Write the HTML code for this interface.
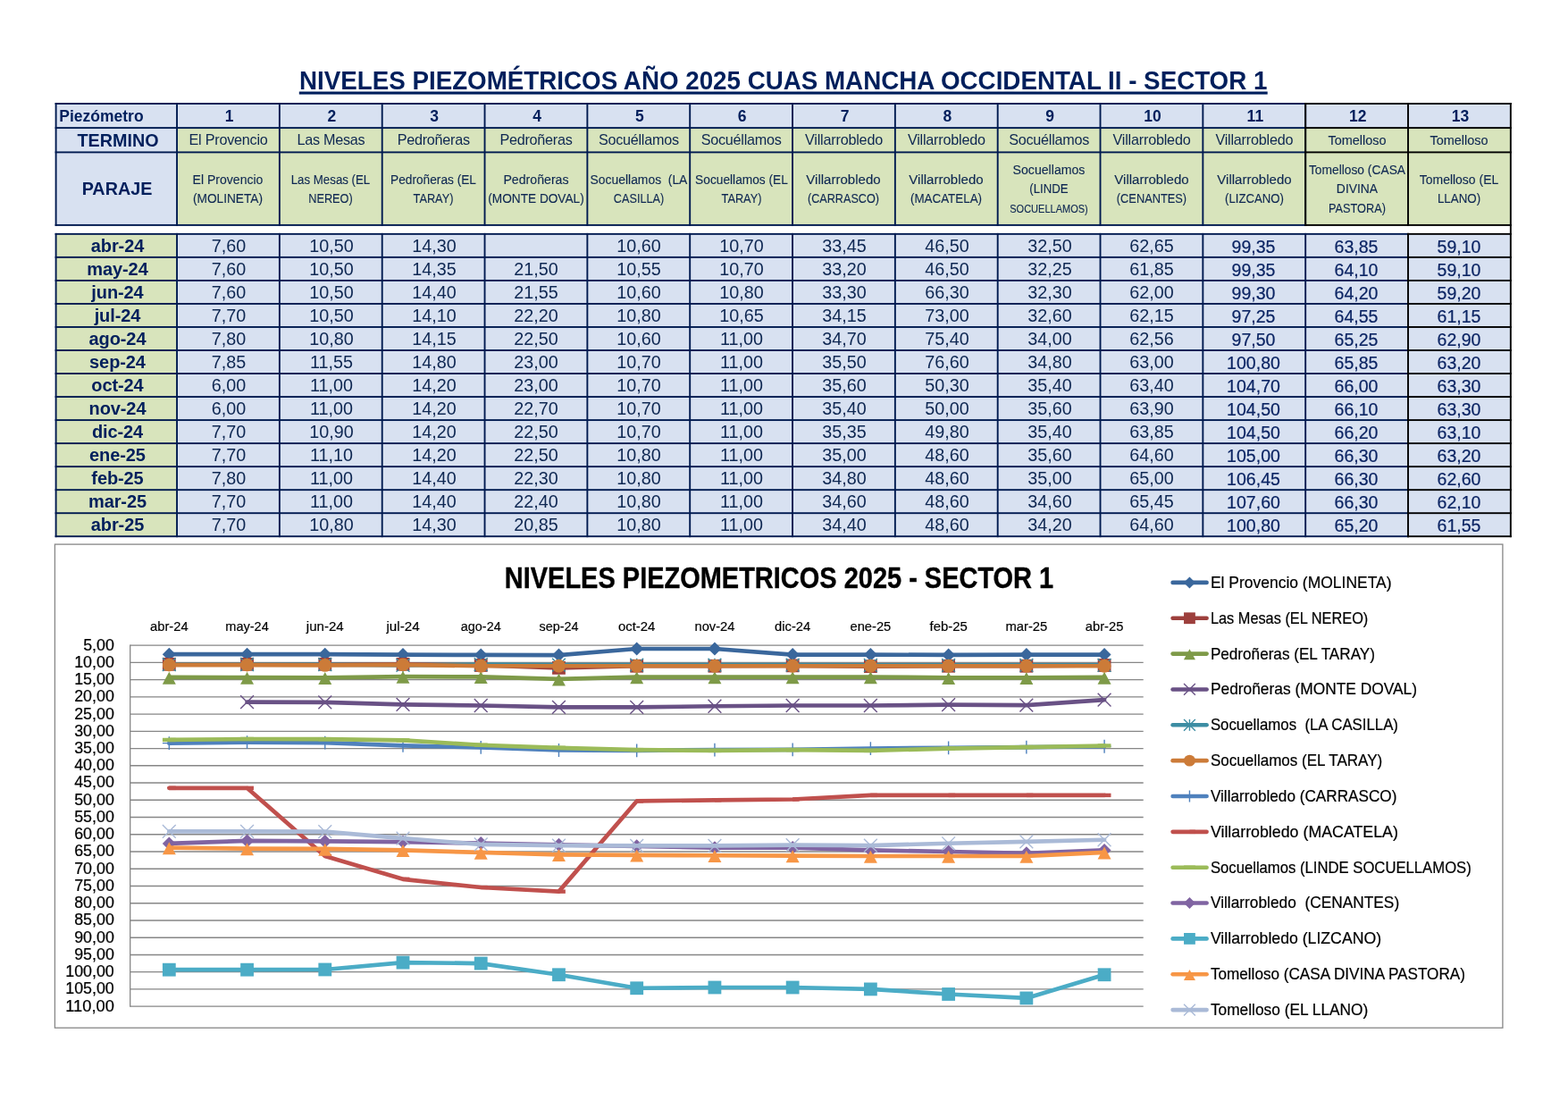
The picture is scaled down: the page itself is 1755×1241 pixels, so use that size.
<!DOCTYPE html>
<html lang="es"><head><meta charset="utf-8"><title>Niveles piezométricos 2025 - Sector 1</title>
<style>
html,body{margin:0;padding:0;background:#fff;width:1755px;height:1241px;overflow:hidden;}
body{width:1755px;height:1241px;position:relative;overflow:hidden;font-family:"Liberation Sans",sans-serif;}
#page{position:absolute;left:0;top:0;width:1755px;height:1241px;overflow:hidden;}
svg{position:absolute;left:0;top:0;}
svg text{font-family:"Liberation Sans",sans-serif;}
.t{position:absolute;white-space:pre;overflow:visible;margin:0;padding:0;}
</style></head><body><div id="page">
<svg id="grid" width="1755" height="1241" viewBox="0 0 1755 1241">
<rect x="62.60" y="116.00" width="135.45" height="135.90" fill="#d8e1f1"/>
<rect x="198.05" y="116.00" width="1492.79" height="27.10" fill="#d8e1f1"/>
<rect x="198.05" y="143.10" width="1492.79" height="108.80" fill="#d8e4bc"/>
<rect x="62.60" y="261.85" width="135.45" height="338.39" fill="#d8e4bc"/>
<rect x="198.05" y="261.85" width="1492.79" height="338.39" fill="#d8e1f1"/>
<rect x="61.65" y="115.05" width="1400.48" height="1.90" fill="#001a50"/>
<rect x="61.65" y="142.15" width="1400.48" height="1.90" fill="#001a50"/>
<rect x="61.65" y="169.45" width="1400.48" height="1.90" fill="#001a50"/>
<rect x="61.65" y="250.95" width="1400.48" height="1.90" fill="#001a50"/>
<rect x="61.65" y="260.90" width="1515.31" height="1.90" fill="#001a50"/>
<rect x="61.65" y="286.93" width="1515.31" height="1.90" fill="#001a50"/>
<rect x="61.65" y="312.96" width="1515.31" height="1.90" fill="#001a50"/>
<rect x="61.65" y="338.99" width="1515.31" height="1.90" fill="#001a50"/>
<rect x="61.65" y="365.02" width="1515.31" height="1.90" fill="#001a50"/>
<rect x="61.65" y="391.05" width="1515.31" height="1.90" fill="#001a50"/>
<rect x="61.65" y="417.08" width="1515.31" height="1.90" fill="#001a50"/>
<rect x="61.65" y="443.11" width="1515.31" height="1.90" fill="#001a50"/>
<rect x="61.65" y="469.14" width="1515.31" height="1.90" fill="#001a50"/>
<rect x="61.65" y="495.17" width="1515.31" height="1.90" fill="#001a50"/>
<rect x="61.65" y="521.20" width="1515.31" height="1.90" fill="#001a50"/>
<rect x="61.65" y="547.23" width="1515.31" height="1.90" fill="#001a50"/>
<rect x="61.65" y="573.26" width="1515.31" height="1.90" fill="#001a50"/>
<rect x="61.65" y="599.29" width="1515.31" height="1.90" fill="#001a50"/>
<rect x="61.65" y="115.05" width="1.90" height="137.80" fill="#001a50"/>
<rect x="61.65" y="260.90" width="1.90" height="340.29" fill="#001a50"/>
<rect x="197.10" y="115.05" width="1.90" height="137.80" fill="#001a50"/>
<rect x="197.10" y="260.90" width="1.90" height="340.29" fill="#001a50"/>
<rect x="311.93" y="115.05" width="1.90" height="137.80" fill="#001a50"/>
<rect x="311.93" y="260.90" width="1.90" height="340.29" fill="#001a50"/>
<rect x="426.76" y="115.05" width="1.90" height="137.80" fill="#001a50"/>
<rect x="426.76" y="260.90" width="1.90" height="340.29" fill="#001a50"/>
<rect x="541.59" y="115.05" width="1.90" height="137.80" fill="#001a50"/>
<rect x="541.59" y="260.90" width="1.90" height="340.29" fill="#001a50"/>
<rect x="656.42" y="115.05" width="1.90" height="137.80" fill="#001a50"/>
<rect x="656.42" y="260.90" width="1.90" height="340.29" fill="#001a50"/>
<rect x="771.25" y="115.05" width="1.90" height="137.80" fill="#001a50"/>
<rect x="771.25" y="260.90" width="1.90" height="340.29" fill="#001a50"/>
<rect x="886.08" y="115.05" width="1.90" height="137.80" fill="#001a50"/>
<rect x="886.08" y="260.90" width="1.90" height="340.29" fill="#001a50"/>
<rect x="1000.91" y="115.05" width="1.90" height="137.80" fill="#001a50"/>
<rect x="1000.91" y="260.90" width="1.90" height="340.29" fill="#001a50"/>
<rect x="1115.74" y="115.05" width="1.90" height="137.80" fill="#001a50"/>
<rect x="1115.74" y="260.90" width="1.90" height="340.29" fill="#001a50"/>
<rect x="1230.57" y="115.05" width="1.90" height="137.80" fill="#001a50"/>
<rect x="1230.57" y="260.90" width="1.90" height="340.29" fill="#001a50"/>
<rect x="1345.40" y="115.05" width="1.90" height="137.80" fill="#001a50"/>
<rect x="1345.40" y="260.90" width="1.90" height="340.29" fill="#001a50"/>
<rect x="1460.23" y="115.05" width="1.90" height="137.80" fill="#001a50"/>
<rect x="1460.23" y="260.90" width="1.90" height="340.29" fill="#001a50"/>
<rect x="1460.23" y="115.05" width="231.56" height="1.90" fill="#000000"/>
<rect x="1460.23" y="142.15" width="231.56" height="1.90" fill="#000000"/>
<rect x="1460.23" y="169.45" width="231.56" height="1.90" fill="#000000"/>
<rect x="1460.23" y="250.95" width="231.56" height="1.90" fill="#000000"/>
<rect x="1575.06" y="260.90" width="116.73" height="1.90" fill="#000000"/>
<rect x="1575.06" y="286.93" width="116.73" height="1.90" fill="#000000"/>
<rect x="1575.06" y="312.96" width="116.73" height="1.90" fill="#000000"/>
<rect x="1575.06" y="338.99" width="116.73" height="1.90" fill="#000000"/>
<rect x="1575.06" y="365.02" width="116.73" height="1.90" fill="#000000"/>
<rect x="1575.06" y="391.05" width="116.73" height="1.90" fill="#000000"/>
<rect x="1575.06" y="417.08" width="116.73" height="1.90" fill="#000000"/>
<rect x="1575.06" y="443.11" width="116.73" height="1.90" fill="#000000"/>
<rect x="1575.06" y="469.14" width="116.73" height="1.90" fill="#000000"/>
<rect x="1575.06" y="495.17" width="116.73" height="1.90" fill="#000000"/>
<rect x="1575.06" y="521.20" width="116.73" height="1.90" fill="#000000"/>
<rect x="1575.06" y="547.23" width="116.73" height="1.90" fill="#000000"/>
<rect x="1575.06" y="573.26" width="116.73" height="1.90" fill="#000000"/>
<rect x="1575.06" y="599.29" width="116.73" height="1.90" fill="#000000"/>
<rect x="1460.23" y="115.05" width="1.90" height="137.80" fill="#000000"/>
<rect x="1575.06" y="115.05" width="1.90" height="137.80" fill="#000000"/>
<rect x="1575.06" y="260.90" width="1.90" height="340.29" fill="#000000"/>
<rect x="1689.89" y="115.05" width="1.90" height="486.14" fill="#000000"/>
<rect x="334.8" y="102.5" width="1083.9" height="3.1" fill="#001f5c"/>
</svg>
<svg id="chart" width="1755" height="1241" viewBox="0 0 1755 1241">
<rect x="61.4" y="609.1" width="1620.5" height="541.1" fill="#fff" stroke="#868686" stroke-width="1.3"/>
<line x1="145.7" y1="722.15" x2="1279.7" y2="722.15" stroke="#868686" stroke-width="1.4"/>
<text transform="translate(127.80 727.55) scale(0.9885 1)" font-size="18.03" text-anchor="end" fill="#000" stroke="#000" stroke-width="0.22" xml:space="preserve">5,00</text>
<line x1="145.7" y1="741.39" x2="1279.7" y2="741.39" stroke="#868686" stroke-width="1.4"/>
<text transform="translate(127.80 746.79) scale(0.9890 1)" font-size="18.03" text-anchor="end" fill="#000" stroke="#000" stroke-width="0.22" xml:space="preserve">10,00</text>
<line x1="145.7" y1="760.63" x2="1279.7" y2="760.63" stroke="#868686" stroke-width="1.4"/>
<text transform="translate(127.80 766.03) scale(0.9890 1)" font-size="18.03" text-anchor="end" fill="#000" stroke="#000" stroke-width="0.22" xml:space="preserve">15,00</text>
<line x1="145.7" y1="779.86" x2="1279.7" y2="779.86" stroke="#868686" stroke-width="1.4"/>
<text transform="translate(127.80 785.26) scale(0.9890 1)" font-size="18.03" text-anchor="end" fill="#000" stroke="#000" stroke-width="0.22" xml:space="preserve">20,00</text>
<line x1="145.7" y1="799.10" x2="1279.7" y2="799.10" stroke="#868686" stroke-width="1.4"/>
<text transform="translate(127.80 804.50) scale(0.9890 1)" font-size="18.03" text-anchor="end" fill="#000" stroke="#000" stroke-width="0.22" xml:space="preserve">25,00</text>
<line x1="145.7" y1="818.34" x2="1279.7" y2="818.34" stroke="#868686" stroke-width="1.4"/>
<text transform="translate(127.80 823.74) scale(0.9890 1)" font-size="18.03" text-anchor="end" fill="#000" stroke="#000" stroke-width="0.22" xml:space="preserve">30,00</text>
<line x1="145.7" y1="837.58" x2="1279.7" y2="837.58" stroke="#868686" stroke-width="1.4"/>
<text transform="translate(127.80 842.98) scale(0.9890 1)" font-size="18.03" text-anchor="end" fill="#000" stroke="#000" stroke-width="0.22" xml:space="preserve">35,00</text>
<line x1="145.7" y1="856.82" x2="1279.7" y2="856.82" stroke="#868686" stroke-width="1.4"/>
<text transform="translate(127.80 862.22) scale(0.9890 1)" font-size="18.03" text-anchor="end" fill="#000" stroke="#000" stroke-width="0.22" xml:space="preserve">40,00</text>
<line x1="145.7" y1="876.05" x2="1279.7" y2="876.05" stroke="#868686" stroke-width="1.4"/>
<text transform="translate(127.80 881.45) scale(0.9890 1)" font-size="18.03" text-anchor="end" fill="#000" stroke="#000" stroke-width="0.22" xml:space="preserve">45,00</text>
<line x1="145.7" y1="895.29" x2="1279.7" y2="895.29" stroke="#868686" stroke-width="1.4"/>
<text transform="translate(127.80 900.69) scale(0.9890 1)" font-size="18.03" text-anchor="end" fill="#000" stroke="#000" stroke-width="0.22" xml:space="preserve">50,00</text>
<line x1="145.7" y1="914.53" x2="1279.7" y2="914.53" stroke="#868686" stroke-width="1.4"/>
<text transform="translate(127.80 919.93) scale(0.9890 1)" font-size="18.03" text-anchor="end" fill="#000" stroke="#000" stroke-width="0.22" xml:space="preserve">55,00</text>
<line x1="145.7" y1="933.77" x2="1279.7" y2="933.77" stroke="#868686" stroke-width="1.4"/>
<text transform="translate(127.80 939.17) scale(0.9890 1)" font-size="18.03" text-anchor="end" fill="#000" stroke="#000" stroke-width="0.22" xml:space="preserve">60,00</text>
<line x1="145.7" y1="953.01" x2="1279.7" y2="953.01" stroke="#868686" stroke-width="1.4"/>
<text transform="translate(127.80 958.41) scale(0.9890 1)" font-size="18.03" text-anchor="end" fill="#000" stroke="#000" stroke-width="0.22" xml:space="preserve">65,00</text>
<line x1="145.7" y1="972.25" x2="1279.7" y2="972.25" stroke="#868686" stroke-width="1.4"/>
<text transform="translate(127.80 977.65) scale(0.9890 1)" font-size="18.03" text-anchor="end" fill="#000" stroke="#000" stroke-width="0.22" xml:space="preserve">70,00</text>
<line x1="145.7" y1="991.48" x2="1279.7" y2="991.48" stroke="#868686" stroke-width="1.4"/>
<text transform="translate(127.80 996.88) scale(0.9890 1)" font-size="18.03" text-anchor="end" fill="#000" stroke="#000" stroke-width="0.22" xml:space="preserve">75,00</text>
<line x1="145.7" y1="1010.72" x2="1279.7" y2="1010.72" stroke="#868686" stroke-width="1.4"/>
<text transform="translate(127.80 1016.12) scale(0.9890 1)" font-size="18.03" text-anchor="end" fill="#000" stroke="#000" stroke-width="0.22" xml:space="preserve">80,00</text>
<line x1="145.7" y1="1029.96" x2="1279.7" y2="1029.96" stroke="#868686" stroke-width="1.4"/>
<text transform="translate(127.80 1035.36) scale(0.9890 1)" font-size="18.03" text-anchor="end" fill="#000" stroke="#000" stroke-width="0.22" xml:space="preserve">85,00</text>
<line x1="145.7" y1="1049.20" x2="1279.7" y2="1049.20" stroke="#868686" stroke-width="1.4"/>
<text transform="translate(127.80 1054.60) scale(0.9890 1)" font-size="18.03" text-anchor="end" fill="#000" stroke="#000" stroke-width="0.22" xml:space="preserve">90,00</text>
<line x1="145.7" y1="1068.44" x2="1279.7" y2="1068.44" stroke="#868686" stroke-width="1.4"/>
<text transform="translate(127.80 1073.84) scale(0.9890 1)" font-size="18.03" text-anchor="end" fill="#000" stroke="#000" stroke-width="0.22" xml:space="preserve">95,00</text>
<line x1="145.7" y1="1087.67" x2="1279.7" y2="1087.67" stroke="#868686" stroke-width="1.4"/>
<text transform="translate(127.80 1093.07) scale(0.9893 1)" font-size="18.03" text-anchor="end" fill="#000" stroke="#000" stroke-width="0.22" xml:space="preserve">100,00</text>
<line x1="145.7" y1="1106.91" x2="1279.7" y2="1106.91" stroke="#868686" stroke-width="1.4"/>
<text transform="translate(127.80 1112.31) scale(0.9893 1)" font-size="18.03" text-anchor="end" fill="#000" stroke="#000" stroke-width="0.22" xml:space="preserve">105,00</text>
<line x1="145.7" y1="1126.15" x2="1279.7" y2="1126.15" stroke="#868686" stroke-width="1.4"/>
<text transform="translate(127.80 1131.55) scale(1.0139 1)" font-size="18.03" text-anchor="end" fill="#000" stroke="#000" stroke-width="0.22" xml:space="preserve">110,00</text>
<line x1="145.7" y1="721.5" x2="145.7" y2="1126.8000000000002" stroke="#868686" stroke-width="1.3"/>
<text transform="translate(189.32 705.90) scale(0.9941 1)" font-size="14.81" text-anchor="middle" fill="#000" stroke="#000" stroke-width="0.18" xml:space="preserve">abr-24</text>
<text transform="translate(276.55 705.90) scale(0.9811 1)" font-size="14.81" text-anchor="middle" fill="#000" stroke="#000" stroke-width="0.18" xml:space="preserve">may-24</text>
<text transform="translate(363.78 705.90) scale(1.0205 1)" font-size="14.81" text-anchor="middle" fill="#000" stroke="#000" stroke-width="0.18" xml:space="preserve">jun-24</text>
<text transform="translate(451.01 705.90) scale(1.0284 1)" font-size="14.81" text-anchor="middle" fill="#000" stroke="#000" stroke-width="0.18" xml:space="preserve">jul-24</text>
<text transform="translate(538.24 705.90) scale(0.9739 1)" font-size="14.81" text-anchor="middle" fill="#000" stroke="#000" stroke-width="0.18" xml:space="preserve">ago-24</text>
<text transform="translate(625.47 705.90) scale(0.9719 1)" font-size="14.81" text-anchor="middle" fill="#000" stroke="#000" stroke-width="0.18" xml:space="preserve">sep-24</text>
<text transform="translate(712.70 705.90) scale(1.0068 1)" font-size="14.81" text-anchor="middle" fill="#000" stroke="#000" stroke-width="0.18" xml:space="preserve">oct-24</text>
<text transform="translate(799.93 705.90) scale(0.9943 1)" font-size="14.81" text-anchor="middle" fill="#000" stroke="#000" stroke-width="0.18" xml:space="preserve">nov-24</text>
<text transform="translate(887.16 705.90) scale(0.9967 1)" font-size="14.81" text-anchor="middle" fill="#000" stroke="#000" stroke-width="0.18" xml:space="preserve">dic-24</text>
<text transform="translate(974.39 705.90) scale(0.9915 1)" font-size="14.81" text-anchor="middle" fill="#000" stroke="#000" stroke-width="0.18" xml:space="preserve">ene-25</text>
<text transform="translate(1061.62 705.90) scale(1.0055 1)" font-size="14.81" text-anchor="middle" fill="#000" stroke="#000" stroke-width="0.18" xml:space="preserve">feb-25</text>
<text transform="translate(1148.85 705.90) scale(1.0010 1)" font-size="14.81" text-anchor="middle" fill="#000" stroke="#000" stroke-width="0.18" xml:space="preserve">mar-25</text>
<text transform="translate(1236.08 705.90) scale(0.9941 1)" font-size="14.81" text-anchor="middle" fill="#000" stroke="#000" stroke-width="0.18" xml:space="preserve">abr-25</text>
<text transform="translate(872.00 657.70) scale(0.8874 1)" font-size="32.66" text-anchor="middle" font-weight="bold" fill="#000" stroke="#000" stroke-width="0.39" xml:space="preserve">NIVELES PIEZOMETRICOS 2025 - SECTOR 1</text>
<path d="M189.32 732.15L276.55 732.15L363.78 732.15L451.01 732.54L538.24 732.92L625.47 733.12L712.70 726.00L799.93 726.00L887.16 732.54L974.39 732.54L1061.62 732.92L1148.85 732.54L1236.08 732.54" fill="none" stroke="#3a679c" stroke-width="4.7" stroke-linejoin="round" stroke-linecap="round"/>
<path d="M181.82 732.15L189.32 724.65L196.82 732.15L189.32 739.65Z" fill="#3a679c"/>
<path d="M269.05 732.15L276.55 724.65L284.05 732.15L276.55 739.65Z" fill="#3a679c"/>
<path d="M356.28 732.15L363.78 724.65L371.28 732.15L363.78 739.65Z" fill="#3a679c"/>
<path d="M443.51 732.54L451.01 725.04L458.51 732.54L451.01 740.04Z" fill="#3a679c"/>
<path d="M530.74 732.92L538.24 725.42L545.74 732.92L538.24 740.42Z" fill="#3a679c"/>
<path d="M617.97 733.12L625.47 725.62L632.97 733.12L625.47 740.62Z" fill="#3a679c"/>
<path d="M705.20 726.00L712.70 718.50L720.20 726.00L712.70 733.50Z" fill="#3a679c"/>
<path d="M792.43 726.00L799.93 718.50L807.43 726.00L799.93 733.50Z" fill="#3a679c"/>
<path d="M879.66 732.54L887.16 725.04L894.66 732.54L887.16 740.04Z" fill="#3a679c"/>
<path d="M966.89 732.54L974.39 725.04L981.89 732.54L974.39 740.04Z" fill="#3a679c"/>
<path d="M1054.12 732.92L1061.62 725.42L1069.12 732.92L1061.62 740.42Z" fill="#3a679c"/>
<path d="M1141.35 732.54L1148.85 725.04L1156.35 732.54L1148.85 740.04Z" fill="#3a679c"/>
<path d="M1228.58 732.54L1236.08 725.04L1243.58 732.54L1236.08 740.04Z" fill="#3a679c"/>
<path d="M189.32 743.31L276.55 743.31L363.78 743.31L451.01 743.31L538.24 744.47L625.47 747.35L712.70 745.24L799.93 745.24L887.16 744.85L974.39 745.62L1061.62 745.24L1148.85 745.24L1236.08 744.47" fill="none" stroke="#9d3f3c" stroke-width="4.7" stroke-linejoin="round" stroke-linecap="round"/>
<rect x="181.92" y="735.91" width="14.80" height="14.80" fill="#9d3f3c"/>
<rect x="269.15" y="735.91" width="14.80" height="14.80" fill="#9d3f3c"/>
<rect x="356.38" y="735.91" width="14.80" height="14.80" fill="#9d3f3c"/>
<rect x="443.61" y="735.91" width="14.80" height="14.80" fill="#9d3f3c"/>
<rect x="530.84" y="737.07" width="14.80" height="14.80" fill="#9d3f3c"/>
<rect x="618.07" y="739.95" width="14.80" height="14.80" fill="#9d3f3c"/>
<rect x="705.30" y="737.84" width="14.80" height="14.80" fill="#9d3f3c"/>
<rect x="792.53" y="737.84" width="14.80" height="14.80" fill="#9d3f3c"/>
<rect x="879.76" y="737.45" width="14.80" height="14.80" fill="#9d3f3c"/>
<rect x="966.99" y="738.22" width="14.80" height="14.80" fill="#9d3f3c"/>
<rect x="1054.22" y="737.84" width="14.80" height="14.80" fill="#9d3f3c"/>
<rect x="1141.45" y="737.84" width="14.80" height="14.80" fill="#9d3f3c"/>
<rect x="1228.68" y="737.07" width="14.80" height="14.80" fill="#9d3f3c"/>
<path d="M189.32 757.93L276.55 758.13L363.78 758.32L451.01 757.16L538.24 757.36L625.47 759.86L712.70 757.55L799.93 757.55L887.16 757.55L974.39 757.55L1061.62 758.32L1148.85 758.32L1236.08 757.93" fill="none" stroke="#7e9a48" stroke-width="4.7" stroke-linejoin="round" stroke-linecap="round"/>
<path d="M189.32 751.63L196.82 765.63L181.82 765.63Z" fill="#7e9a48"/>
<path d="M276.55 751.83L284.05 765.83L269.05 765.83Z" fill="#7e9a48"/>
<path d="M363.78 752.02L371.28 766.02L356.28 766.02Z" fill="#7e9a48"/>
<path d="M451.01 750.86L458.51 764.86L443.51 764.86Z" fill="#7e9a48"/>
<path d="M538.24 751.06L545.74 765.06L530.74 765.06Z" fill="#7e9a48"/>
<path d="M625.47 753.56L632.97 767.56L617.97 767.56Z" fill="#7e9a48"/>
<path d="M712.70 751.25L720.20 765.25L705.20 765.25Z" fill="#7e9a48"/>
<path d="M799.93 751.25L807.43 765.25L792.43 765.25Z" fill="#7e9a48"/>
<path d="M887.16 751.25L894.66 765.25L879.66 765.25Z" fill="#7e9a48"/>
<path d="M974.39 751.25L981.89 765.25L966.89 765.25Z" fill="#7e9a48"/>
<path d="M1061.62 752.02L1069.12 766.02L1054.12 766.02Z" fill="#7e9a48"/>
<path d="M1148.85 752.02L1156.35 766.02L1141.35 766.02Z" fill="#7e9a48"/>
<path d="M1236.08 751.63L1243.58 765.63L1228.58 765.63Z" fill="#7e9a48"/>
<path d="M276.55 785.64L363.78 785.83L451.01 788.33L538.24 789.48L625.47 791.41L712.70 791.41L799.93 790.25L887.16 789.48L974.39 789.48L1061.62 788.71L1148.85 789.10L1236.08 783.13" fill="none" stroke="#695185" stroke-width="4.7" stroke-linejoin="round" stroke-linecap="round"/>
<path d="M269.15 778.24L283.95 793.04M283.95 778.24L269.15 793.04" stroke="#695185" stroke-width="1.4" fill="none"/>
<path d="M356.38 778.43L371.18 793.23M371.18 778.43L356.38 793.23" stroke="#695185" stroke-width="1.4" fill="none"/>
<path d="M443.61 780.93L458.41 795.73M458.41 780.93L443.61 795.73" stroke="#695185" stroke-width="1.4" fill="none"/>
<path d="M530.84 782.08L545.64 796.88M545.64 782.08L530.84 796.88" stroke="#695185" stroke-width="1.4" fill="none"/>
<path d="M618.07 784.01L632.87 798.81M632.87 784.01L618.07 798.81" stroke="#695185" stroke-width="1.4" fill="none"/>
<path d="M705.30 784.01L720.10 798.81M720.10 784.01L705.30 798.81" stroke="#695185" stroke-width="1.4" fill="none"/>
<path d="M792.53 782.85L807.33 797.65M807.33 782.85L792.53 797.65" stroke="#695185" stroke-width="1.4" fill="none"/>
<path d="M879.76 782.08L894.56 796.88M894.56 782.08L879.76 796.88" stroke="#695185" stroke-width="1.4" fill="none"/>
<path d="M966.99 782.08L981.79 796.88M981.79 782.08L966.99 796.88" stroke="#695185" stroke-width="1.4" fill="none"/>
<path d="M1054.22 781.31L1069.02 796.11M1069.02 781.31L1054.22 796.11" stroke="#695185" stroke-width="1.4" fill="none"/>
<path d="M1141.45 781.70L1156.25 796.50M1156.25 781.70L1141.45 796.50" stroke="#695185" stroke-width="1.4" fill="none"/>
<path d="M1228.68 775.73L1243.48 790.53M1243.48 775.73L1228.68 790.53" stroke="#695185" stroke-width="1.4" fill="none"/>
<path d="M189.32 743.70L276.55 743.50L363.78 743.70L451.01 744.47L538.24 743.70L625.47 744.08L712.70 744.08L799.93 744.08L887.16 744.08L974.39 744.47L1061.62 744.47L1148.85 744.47L1236.08 744.47" fill="none" stroke="#3c8da3" stroke-width="4.7" stroke-linejoin="round" stroke-linecap="round"/>
<path d="M181.92 736.30L196.72 751.10M196.72 736.30L181.92 751.10M189.32 736.30L189.32 751.10" stroke="#3c8da3" stroke-width="1.4" fill="none"/>
<path d="M269.15 736.10L283.95 750.90M283.95 736.10L269.15 750.90M276.55 736.10L276.55 750.90" stroke="#3c8da3" stroke-width="1.4" fill="none"/>
<path d="M356.38 736.30L371.18 751.10M371.18 736.30L356.38 751.10M363.78 736.30L363.78 751.10" stroke="#3c8da3" stroke-width="1.4" fill="none"/>
<path d="M443.61 737.07L458.41 751.87M458.41 737.07L443.61 751.87M451.01 737.07L451.01 751.87" stroke="#3c8da3" stroke-width="1.4" fill="none"/>
<path d="M530.84 736.30L545.64 751.10M545.64 736.30L530.84 751.10M538.24 736.30L538.24 751.10" stroke="#3c8da3" stroke-width="1.4" fill="none"/>
<path d="M618.07 736.68L632.87 751.48M632.87 736.68L618.07 751.48M625.47 736.68L625.47 751.48" stroke="#3c8da3" stroke-width="1.4" fill="none"/>
<path d="M705.30 736.68L720.10 751.48M720.10 736.68L705.30 751.48M712.70 736.68L712.70 751.48" stroke="#3c8da3" stroke-width="1.4" fill="none"/>
<path d="M792.53 736.68L807.33 751.48M807.33 736.68L792.53 751.48M799.93 736.68L799.93 751.48" stroke="#3c8da3" stroke-width="1.4" fill="none"/>
<path d="M879.76 736.68L894.56 751.48M894.56 736.68L879.76 751.48M887.16 736.68L887.16 751.48" stroke="#3c8da3" stroke-width="1.4" fill="none"/>
<path d="M966.99 737.07L981.79 751.87M981.79 737.07L966.99 751.87M974.39 737.07L974.39 751.87" stroke="#3c8da3" stroke-width="1.4" fill="none"/>
<path d="M1054.22 737.07L1069.02 751.87M1069.02 737.07L1054.22 751.87M1061.62 737.07L1061.62 751.87" stroke="#3c8da3" stroke-width="1.4" fill="none"/>
<path d="M1141.45 737.07L1156.25 751.87M1156.25 737.07L1141.45 751.87M1148.85 737.07L1148.85 751.87" stroke="#3c8da3" stroke-width="1.4" fill="none"/>
<path d="M1228.68 737.07L1243.48 751.87M1243.48 737.07L1228.68 751.87M1236.08 737.07L1236.08 751.87" stroke="#3c8da3" stroke-width="1.4" fill="none"/>
<path d="M189.32 744.08L276.55 744.08L363.78 744.47L451.01 743.89L538.24 745.24L625.47 745.24L712.70 745.24L799.93 745.24L887.16 745.24L974.39 745.24L1061.62 745.24L1148.85 745.24L1236.08 745.24" fill="none" stroke="#cc7b38" stroke-width="4.7" stroke-linejoin="round" stroke-linecap="round"/>
<circle cx="189.32" cy="744.08" r="7.40" fill="#cc7b38"/>
<circle cx="276.55" cy="744.08" r="7.40" fill="#cc7b38"/>
<circle cx="363.78" cy="744.47" r="7.40" fill="#cc7b38"/>
<circle cx="451.01" cy="743.89" r="7.40" fill="#cc7b38"/>
<circle cx="538.24" cy="745.24" r="7.40" fill="#cc7b38"/>
<circle cx="625.47" cy="745.24" r="7.40" fill="#cc7b38"/>
<circle cx="712.70" cy="745.24" r="7.40" fill="#cc7b38"/>
<circle cx="799.93" cy="745.24" r="7.40" fill="#cc7b38"/>
<circle cx="887.16" cy="745.24" r="7.40" fill="#cc7b38"/>
<circle cx="974.39" cy="745.24" r="7.40" fill="#cc7b38"/>
<circle cx="1061.62" cy="745.24" r="7.40" fill="#cc7b38"/>
<circle cx="1148.85" cy="745.24" r="7.40" fill="#cc7b38"/>
<circle cx="1236.08" cy="745.24" r="7.40" fill="#cc7b38"/>
<path d="M189.32 831.61L276.55 830.65L363.78 831.04L451.01 834.31L538.24 836.42L625.47 839.50L712.70 839.89L799.93 839.12L887.16 838.93L974.39 837.58L1061.62 836.81L1148.85 836.04L1236.08 835.27" fill="none" stroke="#4f81bd" stroke-width="4.7" stroke-linejoin="round" stroke-linecap="round"/>
<path d="M181.92 831.61L196.72 831.61M189.32 824.21L189.32 839.01" stroke="#4f81bd" stroke-width="1.4" fill="none"/>
<path d="M269.15 830.65L283.95 830.65M276.55 823.25L276.55 838.05" stroke="#4f81bd" stroke-width="1.4" fill="none"/>
<path d="M356.38 831.04L371.18 831.04M363.78 823.64L363.78 838.44" stroke="#4f81bd" stroke-width="1.4" fill="none"/>
<path d="M443.61 834.31L458.41 834.31M451.01 826.91L451.01 841.71" stroke="#4f81bd" stroke-width="1.4" fill="none"/>
<path d="M530.84 836.42L545.64 836.42M538.24 829.02L538.24 843.82" stroke="#4f81bd" stroke-width="1.4" fill="none"/>
<path d="M618.07 839.50L632.87 839.50M625.47 832.10L625.47 846.90" stroke="#4f81bd" stroke-width="1.4" fill="none"/>
<path d="M705.30 839.89L720.10 839.89M712.70 832.49L712.70 847.29" stroke="#4f81bd" stroke-width="1.4" fill="none"/>
<path d="M792.53 839.12L807.33 839.12M799.93 831.72L799.93 846.52" stroke="#4f81bd" stroke-width="1.4" fill="none"/>
<path d="M879.76 838.93L894.56 838.93M887.16 831.53L887.16 846.33" stroke="#4f81bd" stroke-width="1.4" fill="none"/>
<path d="M966.99 837.58L981.79 837.58M974.39 830.18L974.39 844.98" stroke="#4f81bd" stroke-width="1.4" fill="none"/>
<path d="M1054.22 836.81L1069.02 836.81M1061.62 829.41L1061.62 844.21" stroke="#4f81bd" stroke-width="1.4" fill="none"/>
<path d="M1141.45 836.04L1156.25 836.04M1148.85 828.64L1148.85 843.44" stroke="#4f81bd" stroke-width="1.4" fill="none"/>
<path d="M1228.68 835.27L1243.48 835.27M1236.08 827.87L1236.08 842.67" stroke="#4f81bd" stroke-width="1.4" fill="none"/>
<path d="M189.32 881.83L276.55 881.83L363.78 958.01L451.01 983.79L538.24 993.02L625.47 997.64L712.70 896.45L799.93 895.29L887.16 894.52L974.39 889.91L1061.62 889.91L1148.85 889.91L1236.08 889.91" fill="none" stroke="#c0504d" stroke-width="4.7" stroke-linejoin="round" stroke-linecap="round"/>
<rect x="189.32" y="879.63" width="7.40" height="4.4" fill="#c0504d"/>
<rect x="276.55" y="879.63" width="7.40" height="4.4" fill="#c0504d"/>
<rect x="363.78" y="955.81" width="7.40" height="4.4" fill="#c0504d"/>
<rect x="451.01" y="981.59" width="7.40" height="4.4" fill="#c0504d"/>
<rect x="538.24" y="990.82" width="7.40" height="4.4" fill="#c0504d"/>
<rect x="625.47" y="995.44" width="7.40" height="4.4" fill="#c0504d"/>
<rect x="712.70" y="894.25" width="7.40" height="4.4" fill="#c0504d"/>
<rect x="799.93" y="893.09" width="7.40" height="4.4" fill="#c0504d"/>
<rect x="887.16" y="892.32" width="7.40" height="4.4" fill="#c0504d"/>
<rect x="974.39" y="887.71" width="7.40" height="4.4" fill="#c0504d"/>
<rect x="1061.62" y="887.71" width="7.40" height="4.4" fill="#c0504d"/>
<rect x="1148.85" y="887.71" width="7.40" height="4.4" fill="#c0504d"/>
<rect x="1236.08" y="887.71" width="7.40" height="4.4" fill="#c0504d"/>
<path d="M189.32 827.96L276.55 827.00L363.78 827.19L451.01 828.34L538.24 833.73L625.47 836.81L712.70 839.12L799.93 839.89L887.16 839.12L974.39 839.89L1061.62 837.58L1148.85 836.04L1236.08 834.50" fill="none" stroke="#9bbb59" stroke-width="4.7" stroke-linejoin="round" stroke-linecap="round"/>
<rect x="181.92" y="825.76" width="14.80" height="4.4" fill="#9bbb59"/>
<rect x="269.15" y="824.80" width="14.80" height="4.4" fill="#9bbb59"/>
<rect x="356.38" y="824.99" width="14.80" height="4.4" fill="#9bbb59"/>
<rect x="443.61" y="826.14" width="14.80" height="4.4" fill="#9bbb59"/>
<rect x="530.84" y="831.53" width="14.80" height="4.4" fill="#9bbb59"/>
<rect x="618.07" y="834.61" width="14.80" height="4.4" fill="#9bbb59"/>
<rect x="705.30" y="836.92" width="14.80" height="4.4" fill="#9bbb59"/>
<rect x="792.53" y="837.69" width="14.80" height="4.4" fill="#9bbb59"/>
<rect x="879.76" y="836.92" width="14.80" height="4.4" fill="#9bbb59"/>
<rect x="966.99" y="837.69" width="14.80" height="4.4" fill="#9bbb59"/>
<rect x="1054.22" y="835.38" width="14.80" height="4.4" fill="#9bbb59"/>
<rect x="1141.45" y="833.84" width="14.80" height="4.4" fill="#9bbb59"/>
<rect x="1228.68" y="832.30" width="14.80" height="4.4" fill="#9bbb59"/>
<path d="M189.32 943.97L276.55 940.89L363.78 941.46L451.01 942.04L538.24 943.62L625.47 945.31L712.70 946.85L799.93 948.77L887.16 948.58L974.39 951.47L1061.62 953.01L1148.85 954.74L1236.08 951.47" fill="none" stroke="#8064a2" stroke-width="4.7" stroke-linejoin="round" stroke-linecap="round"/>
<path d="M181.82 943.97L189.32 936.47L196.82 943.97L189.32 951.47Z" fill="#8064a2"/>
<path d="M269.05 940.89L276.55 933.39L284.05 940.89L276.55 948.39Z" fill="#8064a2"/>
<path d="M356.28 941.46L363.78 933.96L371.28 941.46L363.78 948.96Z" fill="#8064a2"/>
<path d="M443.51 942.04L451.01 934.54L458.51 942.04L451.01 949.54Z" fill="#8064a2"/>
<path d="M530.74 943.62L538.24 936.12L545.74 943.62L538.24 951.12Z" fill="#8064a2"/>
<path d="M617.97 945.31L625.47 937.81L632.97 945.31L625.47 952.81Z" fill="#8064a2"/>
<path d="M705.20 946.85L712.70 939.35L720.20 946.85L712.70 954.35Z" fill="#8064a2"/>
<path d="M792.43 948.77L799.93 941.27L807.43 948.77L799.93 956.27Z" fill="#8064a2"/>
<path d="M879.66 948.58L887.16 941.08L894.66 948.58L887.16 956.08Z" fill="#8064a2"/>
<path d="M966.89 951.47L974.39 943.97L981.89 951.47L974.39 958.97Z" fill="#8064a2"/>
<path d="M1054.12 953.01L1061.62 945.51L1069.12 953.01L1061.62 960.51Z" fill="#8064a2"/>
<path d="M1141.35 954.74L1148.85 947.24L1156.35 954.74L1148.85 962.24Z" fill="#8064a2"/>
<path d="M1228.58 951.47L1236.08 943.97L1243.58 951.47L1236.08 958.97Z" fill="#8064a2"/>
<path d="M189.32 1085.17L276.55 1085.17L363.78 1084.98L451.01 1077.09L538.24 1078.05L625.47 1090.75L712.70 1105.76L799.93 1104.99L887.16 1104.99L974.39 1106.91L1061.62 1112.49L1148.85 1116.92L1236.08 1090.75" fill="none" stroke="#4bacc6" stroke-width="4.7" stroke-linejoin="round" stroke-linecap="round"/>
<rect x="181.92" y="1077.77" width="14.80" height="14.80" fill="#4bacc6"/>
<rect x="269.15" y="1077.77" width="14.80" height="14.80" fill="#4bacc6"/>
<rect x="356.38" y="1077.58" width="14.80" height="14.80" fill="#4bacc6"/>
<rect x="443.61" y="1069.69" width="14.80" height="14.80" fill="#4bacc6"/>
<rect x="530.84" y="1070.65" width="14.80" height="14.80" fill="#4bacc6"/>
<rect x="618.07" y="1083.35" width="14.80" height="14.80" fill="#4bacc6"/>
<rect x="705.30" y="1098.36" width="14.80" height="14.80" fill="#4bacc6"/>
<rect x="792.53" y="1097.59" width="14.80" height="14.80" fill="#4bacc6"/>
<rect x="879.76" y="1097.59" width="14.80" height="14.80" fill="#4bacc6"/>
<rect x="966.99" y="1099.51" width="14.80" height="14.80" fill="#4bacc6"/>
<rect x="1054.22" y="1105.09" width="14.80" height="14.80" fill="#4bacc6"/>
<rect x="1141.45" y="1109.52" width="14.80" height="14.80" fill="#4bacc6"/>
<rect x="1228.68" y="1083.35" width="14.80" height="14.80" fill="#4bacc6"/>
<path d="M189.32 948.58L276.55 949.54L363.78 949.93L451.01 951.28L538.24 953.97L625.47 956.28L712.70 956.85L799.93 957.24L887.16 957.62L974.39 958.01L1061.62 958.01L1148.85 958.01L1236.08 953.78" fill="none" stroke="#f79646" stroke-width="4.7" stroke-linejoin="round" stroke-linecap="round"/>
<path d="M189.32 942.28L196.82 956.28L181.82 956.28Z" fill="#f79646"/>
<path d="M276.55 943.24L284.05 957.24L269.05 957.24Z" fill="#f79646"/>
<path d="M363.78 943.63L371.28 957.63L356.28 957.63Z" fill="#f79646"/>
<path d="M451.01 944.98L458.51 958.98L443.51 958.98Z" fill="#f79646"/>
<path d="M538.24 947.67L545.74 961.67L530.74 961.67Z" fill="#f79646"/>
<path d="M625.47 949.98L632.97 963.98L617.97 963.98Z" fill="#f79646"/>
<path d="M712.70 950.55L720.20 964.55L705.20 964.55Z" fill="#f79646"/>
<path d="M799.93 950.94L807.43 964.94L792.43 964.94Z" fill="#f79646"/>
<path d="M887.16 951.32L894.66 965.32L879.66 965.32Z" fill="#f79646"/>
<path d="M974.39 951.71L981.89 965.71L966.89 965.71Z" fill="#f79646"/>
<path d="M1061.62 951.71L1069.12 965.71L1054.12 965.71Z" fill="#f79646"/>
<path d="M1148.85 951.71L1156.35 965.71L1141.35 965.71Z" fill="#f79646"/>
<path d="M1236.08 947.48L1243.58 961.48L1228.58 961.48Z" fill="#f79646"/>
<path d="M189.32 930.31L276.55 930.31L363.78 930.69L451.01 938.19L538.24 944.93L625.47 946.08L712.70 946.47L799.93 946.47L887.16 945.70L974.39 946.08L1061.62 943.77L1148.85 941.85L1236.08 939.73" fill="none" stroke="#aabad7" stroke-width="4.7" stroke-linejoin="round" stroke-linecap="round"/>
<path d="M181.92 922.91L196.72 937.71M196.72 922.91L181.92 937.71" stroke="#aabad7" stroke-width="1.4" fill="none"/>
<path d="M269.15 922.91L283.95 937.71M283.95 922.91L269.15 937.71" stroke="#aabad7" stroke-width="1.4" fill="none"/>
<path d="M356.38 923.29L371.18 938.09M371.18 923.29L356.38 938.09" stroke="#aabad7" stroke-width="1.4" fill="none"/>
<path d="M443.61 930.79L458.41 945.59M458.41 930.79L443.61 945.59" stroke="#aabad7" stroke-width="1.4" fill="none"/>
<path d="M530.84 937.53L545.64 952.33M545.64 937.53L530.84 952.33" stroke="#aabad7" stroke-width="1.4" fill="none"/>
<path d="M618.07 938.68L632.87 953.48M632.87 938.68L618.07 953.48" stroke="#aabad7" stroke-width="1.4" fill="none"/>
<path d="M705.30 939.07L720.10 953.87M720.10 939.07L705.30 953.87" stroke="#aabad7" stroke-width="1.4" fill="none"/>
<path d="M792.53 939.07L807.33 953.87M807.33 939.07L792.53 953.87" stroke="#aabad7" stroke-width="1.4" fill="none"/>
<path d="M879.76 938.30L894.56 953.10M894.56 938.30L879.76 953.10" stroke="#aabad7" stroke-width="1.4" fill="none"/>
<path d="M966.99 938.68L981.79 953.48M981.79 938.68L966.99 953.48" stroke="#aabad7" stroke-width="1.4" fill="none"/>
<path d="M1054.22 936.37L1069.02 951.17M1069.02 936.37L1054.22 951.17" stroke="#aabad7" stroke-width="1.4" fill="none"/>
<path d="M1141.45 934.45L1156.25 949.25M1156.25 934.45L1141.45 949.25" stroke="#aabad7" stroke-width="1.4" fill="none"/>
<path d="M1228.68 932.33L1243.48 947.13M1243.48 932.33L1228.68 947.13" stroke="#aabad7" stroke-width="1.4" fill="none"/>
<line x1="1312.6" y1="651.90" x2="1350.6" y2="651.90" stroke="#3a679c" stroke-width="4.6" stroke-linecap="round"/>
<path d="M1324.95 651.90L1331.45 645.40L1337.95 651.90L1331.45 658.40Z" fill="#3a679c"/>
<text transform="translate(1354.90 657.80) scale(0.9501 1)" font-size="18.40" text-anchor="start" fill="#000" stroke="#000" stroke-width="0.22" xml:space="preserve">El Provencio (MOLINETA)</text>
<line x1="1312.6" y1="691.75" x2="1350.6" y2="691.75" stroke="#9d3f3c" stroke-width="4.6" stroke-linecap="round"/>
<rect x="1325.05" y="685.35" width="12.80" height="12.80" fill="#9d3f3c"/>
<text transform="translate(1354.90 697.65) scale(0.8882 1)" font-size="18.40" text-anchor="start" fill="#000" stroke="#000" stroke-width="0.22" xml:space="preserve">Las Mesas (EL NEREO)</text>
<line x1="1312.6" y1="731.60" x2="1350.6" y2="731.60" stroke="#7e9a48" stroke-width="4.6" stroke-linecap="round"/>
<path d="M1331.45 726.30L1337.95 738.30L1324.95 738.30Z" fill="#7e9a48"/>
<text transform="translate(1354.90 737.50) scale(0.9317 1)" font-size="18.40" text-anchor="start" fill="#000" stroke="#000" stroke-width="0.22" xml:space="preserve">Pedroñeras (EL TARAY)</text>
<line x1="1312.6" y1="771.45" x2="1350.6" y2="771.45" stroke="#695185" stroke-width="4.6" stroke-linecap="round"/>
<path d="M1325.05 765.05L1337.85 777.85M1337.85 765.05L1325.05 777.85" stroke="#695185" stroke-width="1.4" fill="none"/>
<text transform="translate(1354.90 777.35) scale(0.9443 1)" font-size="18.40" text-anchor="start" fill="#000" stroke="#000" stroke-width="0.22" xml:space="preserve">Pedroñeras (MONTE DOVAL)</text>
<line x1="1312.6" y1="811.30" x2="1350.6" y2="811.30" stroke="#3c8da3" stroke-width="4.6" stroke-linecap="round"/>
<path d="M1325.05 804.90L1337.85 817.70M1337.85 804.90L1325.05 817.70M1331.45 804.90L1331.45 817.70" stroke="#3c8da3" stroke-width="1.4" fill="none"/>
<text transform="translate(1354.90 817.20) scale(0.9135 1)" font-size="18.40" text-anchor="start" fill="#000" stroke="#000" stroke-width="0.22" xml:space="preserve">Socuellamos  (LA CASILLA)</text>
<line x1="1312.6" y1="851.15" x2="1350.6" y2="851.15" stroke="#cc7b38" stroke-width="4.6" stroke-linecap="round"/>
<circle cx="1331.45" cy="851.15" r="6.40" fill="#cc7b38"/>
<text transform="translate(1354.90 857.05) scale(0.9253 1)" font-size="18.40" text-anchor="start" fill="#000" stroke="#000" stroke-width="0.22" xml:space="preserve">Socuellamos (EL TARAY)</text>
<line x1="1312.6" y1="891.00" x2="1350.6" y2="891.00" stroke="#4f81bd" stroke-width="4.6" stroke-linecap="round"/>
<path d="M1325.05 891.00L1337.85 891.00M1331.45 884.60L1331.45 897.40" stroke="#4f81bd" stroke-width="1.4" fill="none"/>
<text transform="translate(1354.90 896.90) scale(0.9329 1)" font-size="18.40" text-anchor="start" fill="#000" stroke="#000" stroke-width="0.22" xml:space="preserve">Villarrobledo (CARRASCO)</text>
<line x1="1312.6" y1="930.85" x2="1350.6" y2="930.85" stroke="#c0504d" stroke-width="4.6" stroke-linecap="round"/>
<rect x="1331.45" y="928.65" width="6.40" height="4.4" fill="#c0504d"/>
<text transform="translate(1354.90 936.75) scale(0.9681 1)" font-size="18.40" text-anchor="start" fill="#000" stroke="#000" stroke-width="0.22" xml:space="preserve">Villarrobledo (MACATELA)</text>
<line x1="1312.6" y1="970.70" x2="1350.6" y2="970.70" stroke="#9bbb59" stroke-width="4.6" stroke-linecap="round"/>
<rect x="1325.05" y="968.50" width="12.80" height="4.4" fill="#9bbb59"/>
<text transform="translate(1354.90 976.60) scale(0.9072 1)" font-size="18.40" text-anchor="start" fill="#000" stroke="#000" stroke-width="0.22" xml:space="preserve">Socuellamos (LINDE SOCUELLAMOS)</text>
<line x1="1312.6" y1="1010.55" x2="1350.6" y2="1010.55" stroke="#8064a2" stroke-width="4.6" stroke-linecap="round"/>
<path d="M1324.95 1010.55L1331.45 1004.05L1337.95 1010.55L1331.45 1017.05Z" fill="#8064a2"/>
<text transform="translate(1354.90 1016.45) scale(0.9407 1)" font-size="18.40" text-anchor="start" fill="#000" stroke="#000" stroke-width="0.22" xml:space="preserve">Villarrobledo  (CENANTES)</text>
<line x1="1312.6" y1="1050.40" x2="1350.6" y2="1050.40" stroke="#4bacc6" stroke-width="4.6" stroke-linecap="round"/>
<rect x="1325.05" y="1044.00" width="12.80" height="12.80" fill="#4bacc6"/>
<text transform="translate(1354.90 1056.30) scale(0.9610 1)" font-size="18.40" text-anchor="start" fill="#000" stroke="#000" stroke-width="0.22" xml:space="preserve">Villarrobledo (LIZCANO)</text>
<line x1="1312.6" y1="1090.25" x2="1350.6" y2="1090.25" stroke="#f79646" stroke-width="4.6" stroke-linecap="round"/>
<path d="M1331.45 1084.95L1337.95 1096.95L1324.95 1096.95Z" fill="#f79646"/>
<text transform="translate(1354.90 1096.15) scale(0.9324 1)" font-size="18.40" text-anchor="start" fill="#000" stroke="#000" stroke-width="0.22" xml:space="preserve">Tomelloso (CASA DIVINA PASTORA)</text>
<line x1="1312.6" y1="1130.10" x2="1350.6" y2="1130.10" stroke="#aabad7" stroke-width="4.6" stroke-linecap="round"/>
<path d="M1325.05 1123.70L1337.85 1136.50M1337.85 1123.70L1325.05 1136.50" stroke="#aabad7" stroke-width="1.4" fill="none"/>
<text transform="translate(1354.90 1136.00) scale(0.9414 1)" font-size="18.40" text-anchor="start" fill="#000" stroke="#000" stroke-width="0.22" xml:space="preserve">Tomelloso (EL LLANO)</text>
</svg>
<div id="tbl">
<div class="t" style="left:334.80px;top:72px;width:400px;height:36px;line-height:36px;font-size:28.70px;text-align:left;color:#001f5c;font-weight:bold;transform:scaleX(0.9673);transform-origin:0 50%;">NIVELES PIEZOMÉTRICOS AÑO 2025 CUAS MANCHA OCCIDENTAL II - SECTOR 1</div>
<div class="t" style="left:66.30px;top:118px;width:400px;height:24px;line-height:24px;font-size:17.50px;text-align:left;color:#001f5c;font-weight:bold;">Piezómetro</div>
<div class="t" style="left:56.56px;top:118px;width:400px;height:24px;line-height:24px;font-size:17.50px;text-align:center;color:#001f5c;font-weight:bold;">1</div>
<div class="t" style="left:171.40px;top:118px;width:400px;height:24px;line-height:24px;font-size:17.50px;text-align:center;color:#001f5c;font-weight:bold;">2</div>
<div class="t" style="left:286.23px;top:118px;width:400px;height:24px;line-height:24px;font-size:17.50px;text-align:center;color:#001f5c;font-weight:bold;">3</div>
<div class="t" style="left:401.05px;top:118px;width:400px;height:24px;line-height:24px;font-size:17.50px;text-align:center;color:#001f5c;font-weight:bold;">4</div>
<div class="t" style="left:515.89px;top:118px;width:400px;height:24px;line-height:24px;font-size:17.50px;text-align:center;color:#001f5c;font-weight:bold;">5</div>
<div class="t" style="left:630.72px;top:118px;width:400px;height:24px;line-height:24px;font-size:17.50px;text-align:center;color:#001f5c;font-weight:bold;">6</div>
<div class="t" style="left:745.54px;top:118px;width:400px;height:24px;line-height:24px;font-size:17.50px;text-align:center;color:#001f5c;font-weight:bold;">7</div>
<div class="t" style="left:860.38px;top:118px;width:400px;height:24px;line-height:24px;font-size:17.50px;text-align:center;color:#001f5c;font-weight:bold;">8</div>
<div class="t" style="left:975.20px;top:118px;width:400px;height:24px;line-height:24px;font-size:17.50px;text-align:center;color:#001f5c;font-weight:bold;">9</div>
<div class="t" style="left:1090.03px;top:118px;width:400px;height:24px;line-height:24px;font-size:17.50px;text-align:center;color:#001f5c;font-weight:bold;">10</div>
<div class="t" style="left:1204.86px;top:118px;width:400px;height:24px;line-height:24px;font-size:17.50px;text-align:center;color:#001f5c;font-weight:bold;">11</div>
<div class="t" style="left:1319.69px;top:118px;width:400px;height:24px;line-height:24px;font-size:17.50px;text-align:center;color:#001f5c;font-weight:bold;">12</div>
<div class="t" style="left:1434.52px;top:118px;width:400px;height:24px;line-height:24px;font-size:17.50px;text-align:center;color:#001f5c;font-weight:bold;">13</div>
<div class="t" style="left:-68.27px;top:143px;width:400px;height:27px;line-height:27px;font-size:20.70px;text-align:center;color:#001f5c;font-weight:bold;transform:scaleX(0.9550);transform-origin:50% 50%;">TERMINO</div>
<div class="t" style="left:-68.87px;top:197px;width:400px;height:27px;line-height:27px;font-size:20.70px;text-align:center;color:#001f5c;font-weight:bold;transform:scaleX(0.9550);transform-origin:50% 50%;">PARAJE</div>
<div class="t" style="left:55.55px;top:145px;width:400px;height:22px;line-height:22px;font-size:16.20px;text-align:center;color:#0e2752;letter-spacing:-0.234px;">El Provencio</div>
<div class="t" style="left:170.36px;top:145px;width:400px;height:22px;line-height:22px;font-size:16.20px;text-align:center;color:#0e2752;letter-spacing:-0.269px;">Las Mesas</div>
<div class="t" style="left:285.20px;top:145px;width:400px;height:22px;line-height:22px;font-size:16.20px;text-align:center;color:#0e2752;letter-spacing:-0.258px;">Pedroñeras</div>
<div class="t" style="left:400.03px;top:145px;width:400px;height:22px;line-height:22px;font-size:16.20px;text-align:center;color:#0e2752;letter-spacing:-0.258px;">Pedroñeras</div>
<div class="t" style="left:514.85px;top:145px;width:400px;height:22px;line-height:22px;font-size:16.20px;text-align:center;color:#0e2752;letter-spacing:-0.260px;">Socuéllamos</div>
<div class="t" style="left:629.68px;top:145px;width:400px;height:22px;line-height:22px;font-size:16.20px;text-align:center;color:#0e2752;letter-spacing:-0.260px;">Socuéllamos</div>
<div class="t" style="left:744.54px;top:145px;width:400px;height:22px;line-height:22px;font-size:16.20px;text-align:center;color:#0e2752;letter-spacing:-0.213px;">Villarrobledo</div>
<div class="t" style="left:859.37px;top:145px;width:400px;height:22px;line-height:22px;font-size:16.20px;text-align:center;color:#0e2752;letter-spacing:-0.213px;">Villarrobledo</div>
<div class="t" style="left:974.17px;top:145px;width:400px;height:22px;line-height:22px;font-size:16.20px;text-align:center;color:#0e2752;letter-spacing:-0.260px;">Socuéllamos</div>
<div class="t" style="left:1089.03px;top:145px;width:400px;height:22px;line-height:22px;font-size:16.20px;text-align:center;color:#0e2752;letter-spacing:-0.213px;">Villarrobledo</div>
<div class="t" style="left:1203.86px;top:145px;width:400px;height:22px;line-height:22px;font-size:16.20px;text-align:center;color:#0e2752;letter-spacing:-0.213px;">Villarrobledo</div>
<div class="t" style="left:1318.59px;top:147px;width:400px;height:20px;line-height:20px;font-size:14.54px;text-align:center;color:#0e2752;-webkit-text-stroke:0.12px #0e2752;transform:scaleX(0.9964);transform-origin:50% 50%;">Tomelloso</div>
<div class="t" style="left:1433.42px;top:147px;width:400px;height:20px;line-height:20px;font-size:14.54px;text-align:center;color:#0e2752;-webkit-text-stroke:0.12px #0e2752;transform:scaleX(0.9964);transform-origin:50% 50%;">Tomelloso</div>
<div class="t" style="left:55.47px;top:191px;width:400px;height:20px;line-height:20px;font-size:14.63px;text-align:center;color:#0e2752;-webkit-text-stroke:0.12px #0e2752;transform:scaleX(0.9605);transform-origin:50% 50%;">El Provencio</div>
<div class="t" style="left:55.47px;top:212px;width:400px;height:20px;line-height:20px;font-size:14.63px;text-align:center;color:#0e2752;-webkit-text-stroke:0.12px #0e2752;transform:scaleX(0.9371);transform-origin:50% 50%;">(MOLINETA)</div>
<div class="t" style="left:170.30px;top:191px;width:400px;height:20px;line-height:20px;font-size:14.63px;text-align:center;color:#0e2752;-webkit-text-stroke:0.12px #0e2752;transform:scaleX(0.9075);transform-origin:50% 50%;">Las Mesas (EL</div>
<div class="t" style="left:170.30px;top:212px;width:400px;height:20px;line-height:20px;font-size:14.63px;text-align:center;color:#0e2752;-webkit-text-stroke:0.12px #0e2752;transform:scaleX(0.8705);transform-origin:50% 50%;">NEREO)</div>
<div class="t" style="left:285.12px;top:191px;width:400px;height:20px;line-height:20px;font-size:14.63px;text-align:center;color:#0e2752;-webkit-text-stroke:0.12px #0e2752;transform:scaleX(0.9371);transform-origin:50% 50%;">Pedroñeras (EL</div>
<div class="t" style="left:285.12px;top:212px;width:400px;height:20px;line-height:20px;font-size:14.63px;text-align:center;color:#0e2752;-webkit-text-stroke:0.12px #0e2752;transform:scaleX(0.8732);transform-origin:50% 50%;">TARAY)</div>
<div class="t" style="left:399.95px;top:191px;width:400px;height:20px;line-height:20px;font-size:14.63px;text-align:center;color:#0e2752;-webkit-text-stroke:0.12px #0e2752;transform:scaleX(0.9673);transform-origin:50% 50%;">Pedroñeras</div>
<div class="t" style="left:399.95px;top:212px;width:400px;height:20px;line-height:20px;font-size:14.63px;text-align:center;color:#0e2752;-webkit-text-stroke:0.12px #0e2752;transform:scaleX(0.9329);transform-origin:50% 50%;">(MONTE DOVAL)</div>
<div class="t" style="left:514.79px;top:191px;width:400px;height:20px;line-height:20px;font-size:14.63px;text-align:center;color:#0e2752;-webkit-text-stroke:0.12px #0e2752;transform:scaleX(0.9490);transform-origin:50% 50%;">Socuellamos  (LA</div>
<div class="t" style="left:514.79px;top:212px;width:400px;height:20px;line-height:20px;font-size:14.63px;text-align:center;color:#0e2752;-webkit-text-stroke:0.12px #0e2752;transform:scaleX(0.8668);transform-origin:50% 50%;">CASILLA)</div>
<div class="t" style="left:629.62px;top:191px;width:400px;height:20px;line-height:20px;font-size:14.63px;text-align:center;color:#0e2752;-webkit-text-stroke:0.12px #0e2752;transform:scaleX(0.9384);transform-origin:50% 50%;">Socuellamos (EL</div>
<div class="t" style="left:629.62px;top:212px;width:400px;height:20px;line-height:20px;font-size:14.63px;text-align:center;color:#0e2752;-webkit-text-stroke:0.12px #0e2752;transform:scaleX(0.8732);transform-origin:50% 50%;">TARAY)</div>
<div class="t" style="left:744.44px;top:191px;width:400px;height:20px;line-height:20px;font-size:14.63px;text-align:center;color:#0e2752;-webkit-text-stroke:0.12px #0e2752;transform:scaleX(1.0297);transform-origin:50% 50%;">Villarrobledo</div>
<div class="t" style="left:744.44px;top:212px;width:400px;height:20px;line-height:20px;font-size:14.63px;text-align:center;color:#0e2752;-webkit-text-stroke:0.12px #0e2752;transform:scaleX(0.8630);transform-origin:50% 50%;">(CARRASCO)</div>
<div class="t" style="left:859.28px;top:191px;width:400px;height:20px;line-height:20px;font-size:14.63px;text-align:center;color:#0e2752;-webkit-text-stroke:0.12px #0e2752;transform:scaleX(1.0297);transform-origin:50% 50%;">Villarrobledo</div>
<div class="t" style="left:859.28px;top:212px;width:400px;height:20px;line-height:20px;font-size:14.63px;text-align:center;color:#0e2752;-webkit-text-stroke:0.12px #0e2752;transform:scaleX(0.9160);transform-origin:50% 50%;">(MACATELA)</div>
<div class="t" style="left:974.11px;top:180px;width:400px;height:20px;line-height:20px;font-size:14.63px;text-align:center;color:#0e2752;-webkit-text-stroke:0.12px #0e2752;transform:scaleX(0.9660);transform-origin:50% 50%;">Socuellamos</div>
<div class="t" style="left:974.11px;top:201px;width:400px;height:20px;line-height:20px;font-size:14.63px;text-align:center;color:#0e2752;-webkit-text-stroke:0.12px #0e2752;transform:scaleX(0.9034);transform-origin:50% 50%;">(LINDE</div>
<div class="t" style="left:974.11px;top:225px;width:400px;height:18px;line-height:18px;font-size:12.42px;text-align:center;color:#0e2752;-webkit-text-stroke:0.12px #0e2752;transform:scaleX(0.8869);transform-origin:50% 50%;">SOCUELLAMOS)</div>
<div class="t" style="left:1088.93px;top:191px;width:400px;height:20px;line-height:20px;font-size:14.63px;text-align:center;color:#0e2752;-webkit-text-stroke:0.12px #0e2752;transform:scaleX(1.0297);transform-origin:50% 50%;">Villarrobledo</div>
<div class="t" style="left:1088.93px;top:212px;width:400px;height:20px;line-height:20px;font-size:14.63px;text-align:center;color:#0e2752;-webkit-text-stroke:0.12px #0e2752;transform:scaleX(0.8756);transform-origin:50% 50%;">(CENANTES)</div>
<div class="t" style="left:1203.76px;top:191px;width:400px;height:20px;line-height:20px;font-size:14.63px;text-align:center;color:#0e2752;-webkit-text-stroke:0.12px #0e2752;transform:scaleX(1.0297);transform-origin:50% 50%;">Villarrobledo</div>
<div class="t" style="left:1203.76px;top:212px;width:400px;height:20px;line-height:20px;font-size:14.63px;text-align:center;color:#0e2752;-webkit-text-stroke:0.12px #0e2752;transform:scaleX(0.9031);transform-origin:50% 50%;">(LIZCANO)</div>
<div class="t" style="left:1318.59px;top:180px;width:400px;height:20px;line-height:20px;font-size:14.63px;text-align:center;color:#0e2752;-webkit-text-stroke:0.12px #0e2752;transform:scaleX(0.9431);transform-origin:50% 50%;">Tomelloso (CASA</div>
<div class="t" style="left:1318.59px;top:201px;width:400px;height:20px;line-height:20px;font-size:14.63px;text-align:center;color:#0e2752;-webkit-text-stroke:0.12px #0e2752;transform:scaleX(0.9490);transform-origin:50% 50%;">DIVINA</div>
<div class="t" style="left:1318.59px;top:223px;width:400px;height:20px;line-height:20px;font-size:14.63px;text-align:center;color:#0e2752;-webkit-text-stroke:0.12px #0e2752;transform:scaleX(0.8705);transform-origin:50% 50%;">PASTORA)</div>
<div class="t" style="left:1433.42px;top:191px;width:400px;height:20px;line-height:20px;font-size:14.63px;text-align:center;color:#0e2752;-webkit-text-stroke:0.12px #0e2752;transform:scaleX(0.9547);transform-origin:50% 50%;">Tomelloso (EL</div>
<div class="t" style="left:1433.42px;top:212px;width:400px;height:20px;line-height:20px;font-size:14.63px;text-align:center;color:#0e2752;-webkit-text-stroke:0.12px #0e2752;transform:scaleX(0.9118);transform-origin:50% 50%;">LLANO)</div>
<div class="t" style="left:-68.52px;top:262px;width:400px;height:26px;line-height:26px;font-size:20.00px;text-align:center;color:#001f5c;font-weight:bold;letter-spacing:-0.100px;">abr-24</div>
<div class="t" style="left:55.97px;top:261px;width:400px;height:27px;line-height:27px;font-size:20.50px;text-align:center;color:#0e2752;transform:scaleX(0.9634);transform-origin:50% 50%;">7,60</div>
<div class="t" style="left:170.80px;top:261px;width:400px;height:27px;line-height:27px;font-size:20.50px;text-align:center;color:#0e2752;transform:scaleX(0.9634);transform-origin:50% 50%;">10,50</div>
<div class="t" style="left:285.62px;top:261px;width:400px;height:27px;line-height:27px;font-size:20.50px;text-align:center;color:#0e2752;transform:scaleX(0.9634);transform-origin:50% 50%;">14,30</div>
<div class="t" style="left:515.29px;top:261px;width:400px;height:27px;line-height:27px;font-size:20.50px;text-align:center;color:#0e2752;transform:scaleX(0.9634);transform-origin:50% 50%;">10,60</div>
<div class="t" style="left:630.12px;top:261px;width:400px;height:27px;line-height:27px;font-size:20.50px;text-align:center;color:#0e2752;transform:scaleX(0.9634);transform-origin:50% 50%;">10,70</div>
<div class="t" style="left:744.94px;top:261px;width:400px;height:27px;line-height:27px;font-size:20.50px;text-align:center;color:#0e2752;transform:scaleX(0.9634);transform-origin:50% 50%;">33,45</div>
<div class="t" style="left:859.78px;top:261px;width:400px;height:27px;line-height:27px;font-size:20.50px;text-align:center;color:#0e2752;transform:scaleX(0.9634);transform-origin:50% 50%;">46,50</div>
<div class="t" style="left:974.61px;top:261px;width:400px;height:27px;line-height:27px;font-size:20.50px;text-align:center;color:#0e2752;transform:scaleX(0.9634);transform-origin:50% 50%;">32,50</div>
<div class="t" style="left:1089.43px;top:261px;width:400px;height:27px;line-height:27px;font-size:20.50px;text-align:center;color:#0e2752;transform:scaleX(0.9634);transform-origin:50% 50%;">62,65</div>
<div class="t" style="left:1203.46px;top:263px;width:400px;height:26px;line-height:26px;font-size:19.78px;text-align:center;color:#0b2463;-webkit-text-stroke:0.20px #0b2463;transform:scaleX(0.9890);transform-origin:50% 50%;">99,35</div>
<div class="t" style="left:1318.29px;top:263px;width:400px;height:26px;line-height:26px;font-size:19.78px;text-align:center;color:#0b2463;-webkit-text-stroke:0.20px #0b2463;transform:scaleX(0.9890);transform-origin:50% 50%;">63,85</div>
<div class="t" style="left:1433.12px;top:263px;width:400px;height:26px;line-height:26px;font-size:19.78px;text-align:center;color:#0b2463;-webkit-text-stroke:0.20px #0b2463;transform:scaleX(0.9890);transform-origin:50% 50%;">59,10</div>
<div class="t" style="left:-68.52px;top:288px;width:400px;height:26px;line-height:26px;font-size:20.00px;text-align:center;color:#001f5c;font-weight:bold;letter-spacing:-0.100px;">may-24</div>
<div class="t" style="left:55.97px;top:287px;width:400px;height:27px;line-height:27px;font-size:20.50px;text-align:center;color:#0e2752;transform:scaleX(0.9634);transform-origin:50% 50%;">7,60</div>
<div class="t" style="left:170.80px;top:287px;width:400px;height:27px;line-height:27px;font-size:20.50px;text-align:center;color:#0e2752;transform:scaleX(0.9634);transform-origin:50% 50%;">10,50</div>
<div class="t" style="left:285.62px;top:287px;width:400px;height:27px;line-height:27px;font-size:20.50px;text-align:center;color:#0e2752;transform:scaleX(0.9634);transform-origin:50% 50%;">14,35</div>
<div class="t" style="left:400.45px;top:287px;width:400px;height:27px;line-height:27px;font-size:20.50px;text-align:center;color:#0e2752;transform:scaleX(0.9634);transform-origin:50% 50%;">21,50</div>
<div class="t" style="left:515.29px;top:287px;width:400px;height:27px;line-height:27px;font-size:20.50px;text-align:center;color:#0e2752;transform:scaleX(0.9634);transform-origin:50% 50%;">10,55</div>
<div class="t" style="left:630.12px;top:287px;width:400px;height:27px;line-height:27px;font-size:20.50px;text-align:center;color:#0e2752;transform:scaleX(0.9634);transform-origin:50% 50%;">10,70</div>
<div class="t" style="left:744.94px;top:287px;width:400px;height:27px;line-height:27px;font-size:20.50px;text-align:center;color:#0e2752;transform:scaleX(0.9634);transform-origin:50% 50%;">33,20</div>
<div class="t" style="left:859.78px;top:287px;width:400px;height:27px;line-height:27px;font-size:20.50px;text-align:center;color:#0e2752;transform:scaleX(0.9634);transform-origin:50% 50%;">46,50</div>
<div class="t" style="left:974.61px;top:287px;width:400px;height:27px;line-height:27px;font-size:20.50px;text-align:center;color:#0e2752;transform:scaleX(0.9634);transform-origin:50% 50%;">32,25</div>
<div class="t" style="left:1089.43px;top:287px;width:400px;height:27px;line-height:27px;font-size:20.50px;text-align:center;color:#0e2752;transform:scaleX(0.9634);transform-origin:50% 50%;">61,85</div>
<div class="t" style="left:1203.46px;top:289px;width:400px;height:26px;line-height:26px;font-size:19.78px;text-align:center;color:#0b2463;-webkit-text-stroke:0.20px #0b2463;transform:scaleX(0.9890);transform-origin:50% 50%;">99,35</div>
<div class="t" style="left:1318.29px;top:289px;width:400px;height:26px;line-height:26px;font-size:19.78px;text-align:center;color:#0b2463;-webkit-text-stroke:0.20px #0b2463;transform:scaleX(0.9890);transform-origin:50% 50%;">64,10</div>
<div class="t" style="left:1433.12px;top:289px;width:400px;height:26px;line-height:26px;font-size:19.78px;text-align:center;color:#0b2463;-webkit-text-stroke:0.20px #0b2463;transform:scaleX(0.9890);transform-origin:50% 50%;">59,10</div>
<div class="t" style="left:-68.52px;top:314px;width:400px;height:26px;line-height:26px;font-size:20.00px;text-align:center;color:#001f5c;font-weight:bold;letter-spacing:-0.100px;">jun-24</div>
<div class="t" style="left:55.97px;top:313px;width:400px;height:27px;line-height:27px;font-size:20.50px;text-align:center;color:#0e2752;transform:scaleX(0.9634);transform-origin:50% 50%;">7,60</div>
<div class="t" style="left:170.80px;top:313px;width:400px;height:27px;line-height:27px;font-size:20.50px;text-align:center;color:#0e2752;transform:scaleX(0.9634);transform-origin:50% 50%;">10,50</div>
<div class="t" style="left:285.62px;top:313px;width:400px;height:27px;line-height:27px;font-size:20.50px;text-align:center;color:#0e2752;transform:scaleX(0.9634);transform-origin:50% 50%;">14,40</div>
<div class="t" style="left:400.45px;top:313px;width:400px;height:27px;line-height:27px;font-size:20.50px;text-align:center;color:#0e2752;transform:scaleX(0.9634);transform-origin:50% 50%;">21,55</div>
<div class="t" style="left:515.29px;top:313px;width:400px;height:27px;line-height:27px;font-size:20.50px;text-align:center;color:#0e2752;transform:scaleX(0.9634);transform-origin:50% 50%;">10,60</div>
<div class="t" style="left:630.12px;top:313px;width:400px;height:27px;line-height:27px;font-size:20.50px;text-align:center;color:#0e2752;transform:scaleX(0.9634);transform-origin:50% 50%;">10,80</div>
<div class="t" style="left:744.94px;top:313px;width:400px;height:27px;line-height:27px;font-size:20.50px;text-align:center;color:#0e2752;transform:scaleX(0.9634);transform-origin:50% 50%;">33,30</div>
<div class="t" style="left:859.78px;top:313px;width:400px;height:27px;line-height:27px;font-size:20.50px;text-align:center;color:#0e2752;transform:scaleX(0.9634);transform-origin:50% 50%;">66,30</div>
<div class="t" style="left:974.61px;top:313px;width:400px;height:27px;line-height:27px;font-size:20.50px;text-align:center;color:#0e2752;transform:scaleX(0.9634);transform-origin:50% 50%;">32,30</div>
<div class="t" style="left:1089.43px;top:313px;width:400px;height:27px;line-height:27px;font-size:20.50px;text-align:center;color:#0e2752;transform:scaleX(0.9634);transform-origin:50% 50%;">62,00</div>
<div class="t" style="left:1203.46px;top:315px;width:400px;height:26px;line-height:26px;font-size:19.78px;text-align:center;color:#0b2463;-webkit-text-stroke:0.20px #0b2463;transform:scaleX(0.9890);transform-origin:50% 50%;">99,30</div>
<div class="t" style="left:1318.29px;top:315px;width:400px;height:26px;line-height:26px;font-size:19.78px;text-align:center;color:#0b2463;-webkit-text-stroke:0.20px #0b2463;transform:scaleX(0.9890);transform-origin:50% 50%;">64,20</div>
<div class="t" style="left:1433.12px;top:315px;width:400px;height:26px;line-height:26px;font-size:19.78px;text-align:center;color:#0b2463;-webkit-text-stroke:0.20px #0b2463;transform:scaleX(0.9890);transform-origin:50% 50%;">59,20</div>
<div class="t" style="left:-68.52px;top:340px;width:400px;height:26px;line-height:26px;font-size:20.00px;text-align:center;color:#001f5c;font-weight:bold;letter-spacing:-0.100px;">jul-24</div>
<div class="t" style="left:55.97px;top:339px;width:400px;height:27px;line-height:27px;font-size:20.50px;text-align:center;color:#0e2752;transform:scaleX(0.9634);transform-origin:50% 50%;">7,70</div>
<div class="t" style="left:170.80px;top:339px;width:400px;height:27px;line-height:27px;font-size:20.50px;text-align:center;color:#0e2752;transform:scaleX(0.9634);transform-origin:50% 50%;">10,50</div>
<div class="t" style="left:285.62px;top:339px;width:400px;height:27px;line-height:27px;font-size:20.50px;text-align:center;color:#0e2752;transform:scaleX(0.9634);transform-origin:50% 50%;">14,10</div>
<div class="t" style="left:400.45px;top:339px;width:400px;height:27px;line-height:27px;font-size:20.50px;text-align:center;color:#0e2752;transform:scaleX(0.9634);transform-origin:50% 50%;">22,20</div>
<div class="t" style="left:515.29px;top:339px;width:400px;height:27px;line-height:27px;font-size:20.50px;text-align:center;color:#0e2752;transform:scaleX(0.9634);transform-origin:50% 50%;">10,80</div>
<div class="t" style="left:630.12px;top:339px;width:400px;height:27px;line-height:27px;font-size:20.50px;text-align:center;color:#0e2752;transform:scaleX(0.9634);transform-origin:50% 50%;">10,65</div>
<div class="t" style="left:744.94px;top:339px;width:400px;height:27px;line-height:27px;font-size:20.50px;text-align:center;color:#0e2752;transform:scaleX(0.9634);transform-origin:50% 50%;">34,15</div>
<div class="t" style="left:859.78px;top:339px;width:400px;height:27px;line-height:27px;font-size:20.50px;text-align:center;color:#0e2752;transform:scaleX(0.9634);transform-origin:50% 50%;">73,00</div>
<div class="t" style="left:974.61px;top:339px;width:400px;height:27px;line-height:27px;font-size:20.50px;text-align:center;color:#0e2752;transform:scaleX(0.9634);transform-origin:50% 50%;">32,60</div>
<div class="t" style="left:1089.43px;top:339px;width:400px;height:27px;line-height:27px;font-size:20.50px;text-align:center;color:#0e2752;transform:scaleX(0.9634);transform-origin:50% 50%;">62,15</div>
<div class="t" style="left:1203.46px;top:341px;width:400px;height:26px;line-height:26px;font-size:19.78px;text-align:center;color:#0b2463;-webkit-text-stroke:0.20px #0b2463;transform:scaleX(0.9890);transform-origin:50% 50%;">97,25</div>
<div class="t" style="left:1318.29px;top:341px;width:400px;height:26px;line-height:26px;font-size:19.78px;text-align:center;color:#0b2463;-webkit-text-stroke:0.20px #0b2463;transform:scaleX(0.9890);transform-origin:50% 50%;">64,55</div>
<div class="t" style="left:1433.12px;top:341px;width:400px;height:26px;line-height:26px;font-size:19.78px;text-align:center;color:#0b2463;-webkit-text-stroke:0.20px #0b2463;transform:scaleX(0.9890);transform-origin:50% 50%;">61,15</div>
<div class="t" style="left:-68.52px;top:366px;width:400px;height:26px;line-height:26px;font-size:20.00px;text-align:center;color:#001f5c;font-weight:bold;letter-spacing:-0.100px;">ago-24</div>
<div class="t" style="left:55.97px;top:365px;width:400px;height:27px;line-height:27px;font-size:20.50px;text-align:center;color:#0e2752;transform:scaleX(0.9634);transform-origin:50% 50%;">7,80</div>
<div class="t" style="left:170.80px;top:365px;width:400px;height:27px;line-height:27px;font-size:20.50px;text-align:center;color:#0e2752;transform:scaleX(0.9634);transform-origin:50% 50%;">10,80</div>
<div class="t" style="left:285.62px;top:365px;width:400px;height:27px;line-height:27px;font-size:20.50px;text-align:center;color:#0e2752;transform:scaleX(0.9634);transform-origin:50% 50%;">14,15</div>
<div class="t" style="left:400.45px;top:365px;width:400px;height:27px;line-height:27px;font-size:20.50px;text-align:center;color:#0e2752;transform:scaleX(0.9634);transform-origin:50% 50%;">22,50</div>
<div class="t" style="left:515.29px;top:365px;width:400px;height:27px;line-height:27px;font-size:20.50px;text-align:center;color:#0e2752;transform:scaleX(0.9634);transform-origin:50% 50%;">10,60</div>
<div class="t" style="left:630.12px;top:365px;width:400px;height:27px;line-height:27px;font-size:20.50px;text-align:center;color:#0e2752;transform:scaleX(0.9634);transform-origin:50% 50%;">11,00</div>
<div class="t" style="left:744.94px;top:365px;width:400px;height:27px;line-height:27px;font-size:20.50px;text-align:center;color:#0e2752;transform:scaleX(0.9634);transform-origin:50% 50%;">34,70</div>
<div class="t" style="left:859.78px;top:365px;width:400px;height:27px;line-height:27px;font-size:20.50px;text-align:center;color:#0e2752;transform:scaleX(0.9634);transform-origin:50% 50%;">75,40</div>
<div class="t" style="left:974.61px;top:365px;width:400px;height:27px;line-height:27px;font-size:20.50px;text-align:center;color:#0e2752;transform:scaleX(0.9634);transform-origin:50% 50%;">34,00</div>
<div class="t" style="left:1089.43px;top:365px;width:400px;height:27px;line-height:27px;font-size:20.50px;text-align:center;color:#0e2752;transform:scaleX(0.9634);transform-origin:50% 50%;">62,56</div>
<div class="t" style="left:1203.46px;top:367px;width:400px;height:26px;line-height:26px;font-size:19.78px;text-align:center;color:#0b2463;-webkit-text-stroke:0.20px #0b2463;transform:scaleX(0.9890);transform-origin:50% 50%;">97,50</div>
<div class="t" style="left:1318.29px;top:367px;width:400px;height:26px;line-height:26px;font-size:19.78px;text-align:center;color:#0b2463;-webkit-text-stroke:0.20px #0b2463;transform:scaleX(0.9890);transform-origin:50% 50%;">65,25</div>
<div class="t" style="left:1433.12px;top:367px;width:400px;height:26px;line-height:26px;font-size:19.78px;text-align:center;color:#0b2463;-webkit-text-stroke:0.20px #0b2463;transform:scaleX(0.9890);transform-origin:50% 50%;">62,90</div>
<div class="t" style="left:-68.52px;top:392px;width:400px;height:26px;line-height:26px;font-size:20.00px;text-align:center;color:#001f5c;font-weight:bold;letter-spacing:-0.100px;">sep-24</div>
<div class="t" style="left:55.97px;top:391px;width:400px;height:27px;line-height:27px;font-size:20.50px;text-align:center;color:#0e2752;transform:scaleX(0.9634);transform-origin:50% 50%;">7,85</div>
<div class="t" style="left:170.80px;top:391px;width:400px;height:27px;line-height:27px;font-size:20.50px;text-align:center;color:#0e2752;transform:scaleX(0.9634);transform-origin:50% 50%;">11,55</div>
<div class="t" style="left:285.62px;top:391px;width:400px;height:27px;line-height:27px;font-size:20.50px;text-align:center;color:#0e2752;transform:scaleX(0.9634);transform-origin:50% 50%;">14,80</div>
<div class="t" style="left:400.45px;top:391px;width:400px;height:27px;line-height:27px;font-size:20.50px;text-align:center;color:#0e2752;transform:scaleX(0.9634);transform-origin:50% 50%;">23,00</div>
<div class="t" style="left:515.29px;top:391px;width:400px;height:27px;line-height:27px;font-size:20.50px;text-align:center;color:#0e2752;transform:scaleX(0.9634);transform-origin:50% 50%;">10,70</div>
<div class="t" style="left:630.12px;top:391px;width:400px;height:27px;line-height:27px;font-size:20.50px;text-align:center;color:#0e2752;transform:scaleX(0.9634);transform-origin:50% 50%;">11,00</div>
<div class="t" style="left:744.94px;top:391px;width:400px;height:27px;line-height:27px;font-size:20.50px;text-align:center;color:#0e2752;transform:scaleX(0.9634);transform-origin:50% 50%;">35,50</div>
<div class="t" style="left:859.78px;top:391px;width:400px;height:27px;line-height:27px;font-size:20.50px;text-align:center;color:#0e2752;transform:scaleX(0.9634);transform-origin:50% 50%;">76,60</div>
<div class="t" style="left:974.61px;top:391px;width:400px;height:27px;line-height:27px;font-size:20.50px;text-align:center;color:#0e2752;transform:scaleX(0.9634);transform-origin:50% 50%;">34,80</div>
<div class="t" style="left:1089.43px;top:391px;width:400px;height:27px;line-height:27px;font-size:20.50px;text-align:center;color:#0e2752;transform:scaleX(0.9634);transform-origin:50% 50%;">63,00</div>
<div class="t" style="left:1203.46px;top:393px;width:400px;height:26px;line-height:26px;font-size:19.78px;text-align:center;color:#0b2463;-webkit-text-stroke:0.20px #0b2463;transform:scaleX(0.9893);transform-origin:50% 50%;">100,80</div>
<div class="t" style="left:1318.29px;top:393px;width:400px;height:26px;line-height:26px;font-size:19.78px;text-align:center;color:#0b2463;-webkit-text-stroke:0.20px #0b2463;transform:scaleX(0.9890);transform-origin:50% 50%;">65,85</div>
<div class="t" style="left:1433.12px;top:393px;width:400px;height:26px;line-height:26px;font-size:19.78px;text-align:center;color:#0b2463;-webkit-text-stroke:0.20px #0b2463;transform:scaleX(0.9890);transform-origin:50% 50%;">63,20</div>
<div class="t" style="left:-68.52px;top:418px;width:400px;height:26px;line-height:26px;font-size:20.00px;text-align:center;color:#001f5c;font-weight:bold;letter-spacing:-0.100px;">oct-24</div>
<div class="t" style="left:55.97px;top:417px;width:400px;height:27px;line-height:27px;font-size:20.50px;text-align:center;color:#0e2752;transform:scaleX(0.9634);transform-origin:50% 50%;">6,00</div>
<div class="t" style="left:170.80px;top:417px;width:400px;height:27px;line-height:27px;font-size:20.50px;text-align:center;color:#0e2752;transform:scaleX(0.9634);transform-origin:50% 50%;">11,00</div>
<div class="t" style="left:285.62px;top:417px;width:400px;height:27px;line-height:27px;font-size:20.50px;text-align:center;color:#0e2752;transform:scaleX(0.9634);transform-origin:50% 50%;">14,20</div>
<div class="t" style="left:400.45px;top:417px;width:400px;height:27px;line-height:27px;font-size:20.50px;text-align:center;color:#0e2752;transform:scaleX(0.9634);transform-origin:50% 50%;">23,00</div>
<div class="t" style="left:515.29px;top:417px;width:400px;height:27px;line-height:27px;font-size:20.50px;text-align:center;color:#0e2752;transform:scaleX(0.9634);transform-origin:50% 50%;">10,70</div>
<div class="t" style="left:630.12px;top:417px;width:400px;height:27px;line-height:27px;font-size:20.50px;text-align:center;color:#0e2752;transform:scaleX(0.9634);transform-origin:50% 50%;">11,00</div>
<div class="t" style="left:744.94px;top:417px;width:400px;height:27px;line-height:27px;font-size:20.50px;text-align:center;color:#0e2752;transform:scaleX(0.9634);transform-origin:50% 50%;">35,60</div>
<div class="t" style="left:859.78px;top:417px;width:400px;height:27px;line-height:27px;font-size:20.50px;text-align:center;color:#0e2752;transform:scaleX(0.9634);transform-origin:50% 50%;">50,30</div>
<div class="t" style="left:974.61px;top:417px;width:400px;height:27px;line-height:27px;font-size:20.50px;text-align:center;color:#0e2752;transform:scaleX(0.9634);transform-origin:50% 50%;">35,40</div>
<div class="t" style="left:1089.43px;top:417px;width:400px;height:27px;line-height:27px;font-size:20.50px;text-align:center;color:#0e2752;transform:scaleX(0.9634);transform-origin:50% 50%;">63,40</div>
<div class="t" style="left:1203.46px;top:419px;width:400px;height:26px;line-height:26px;font-size:19.78px;text-align:center;color:#0b2463;-webkit-text-stroke:0.20px #0b2463;transform:scaleX(0.9893);transform-origin:50% 50%;">104,70</div>
<div class="t" style="left:1318.29px;top:419px;width:400px;height:26px;line-height:26px;font-size:19.78px;text-align:center;color:#0b2463;-webkit-text-stroke:0.20px #0b2463;transform:scaleX(0.9890);transform-origin:50% 50%;">66,00</div>
<div class="t" style="left:1433.12px;top:419px;width:400px;height:26px;line-height:26px;font-size:19.78px;text-align:center;color:#0b2463;-webkit-text-stroke:0.20px #0b2463;transform:scaleX(0.9890);transform-origin:50% 50%;">63,30</div>
<div class="t" style="left:-68.52px;top:444px;width:400px;height:26px;line-height:26px;font-size:20.00px;text-align:center;color:#001f5c;font-weight:bold;letter-spacing:-0.100px;">nov-24</div>
<div class="t" style="left:55.97px;top:443px;width:400px;height:27px;line-height:27px;font-size:20.50px;text-align:center;color:#0e2752;transform:scaleX(0.9634);transform-origin:50% 50%;">6,00</div>
<div class="t" style="left:170.80px;top:443px;width:400px;height:27px;line-height:27px;font-size:20.50px;text-align:center;color:#0e2752;transform:scaleX(0.9634);transform-origin:50% 50%;">11,00</div>
<div class="t" style="left:285.62px;top:443px;width:400px;height:27px;line-height:27px;font-size:20.50px;text-align:center;color:#0e2752;transform:scaleX(0.9634);transform-origin:50% 50%;">14,20</div>
<div class="t" style="left:400.45px;top:443px;width:400px;height:27px;line-height:27px;font-size:20.50px;text-align:center;color:#0e2752;transform:scaleX(0.9634);transform-origin:50% 50%;">22,70</div>
<div class="t" style="left:515.29px;top:443px;width:400px;height:27px;line-height:27px;font-size:20.50px;text-align:center;color:#0e2752;transform:scaleX(0.9634);transform-origin:50% 50%;">10,70</div>
<div class="t" style="left:630.12px;top:443px;width:400px;height:27px;line-height:27px;font-size:20.50px;text-align:center;color:#0e2752;transform:scaleX(0.9634);transform-origin:50% 50%;">11,00</div>
<div class="t" style="left:744.94px;top:443px;width:400px;height:27px;line-height:27px;font-size:20.50px;text-align:center;color:#0e2752;transform:scaleX(0.9634);transform-origin:50% 50%;">35,40</div>
<div class="t" style="left:859.78px;top:443px;width:400px;height:27px;line-height:27px;font-size:20.50px;text-align:center;color:#0e2752;transform:scaleX(0.9634);transform-origin:50% 50%;">50,00</div>
<div class="t" style="left:974.61px;top:443px;width:400px;height:27px;line-height:27px;font-size:20.50px;text-align:center;color:#0e2752;transform:scaleX(0.9634);transform-origin:50% 50%;">35,60</div>
<div class="t" style="left:1089.43px;top:443px;width:400px;height:27px;line-height:27px;font-size:20.50px;text-align:center;color:#0e2752;transform:scaleX(0.9634);transform-origin:50% 50%;">63,90</div>
<div class="t" style="left:1203.46px;top:445px;width:400px;height:26px;line-height:26px;font-size:19.78px;text-align:center;color:#0b2463;-webkit-text-stroke:0.20px #0b2463;transform:scaleX(0.9893);transform-origin:50% 50%;">104,50</div>
<div class="t" style="left:1318.29px;top:445px;width:400px;height:26px;line-height:26px;font-size:19.78px;text-align:center;color:#0b2463;-webkit-text-stroke:0.20px #0b2463;transform:scaleX(0.9890);transform-origin:50% 50%;">66,10</div>
<div class="t" style="left:1433.12px;top:445px;width:400px;height:26px;line-height:26px;font-size:19.78px;text-align:center;color:#0b2463;-webkit-text-stroke:0.20px #0b2463;transform:scaleX(0.9890);transform-origin:50% 50%;">63,30</div>
<div class="t" style="left:-68.52px;top:470px;width:400px;height:26px;line-height:26px;font-size:20.00px;text-align:center;color:#001f5c;font-weight:bold;letter-spacing:-0.100px;">dic-24</div>
<div class="t" style="left:55.97px;top:469px;width:400px;height:27px;line-height:27px;font-size:20.50px;text-align:center;color:#0e2752;transform:scaleX(0.9634);transform-origin:50% 50%;">7,70</div>
<div class="t" style="left:170.80px;top:469px;width:400px;height:27px;line-height:27px;font-size:20.50px;text-align:center;color:#0e2752;transform:scaleX(0.9634);transform-origin:50% 50%;">10,90</div>
<div class="t" style="left:285.62px;top:469px;width:400px;height:27px;line-height:27px;font-size:20.50px;text-align:center;color:#0e2752;transform:scaleX(0.9634);transform-origin:50% 50%;">14,20</div>
<div class="t" style="left:400.45px;top:469px;width:400px;height:27px;line-height:27px;font-size:20.50px;text-align:center;color:#0e2752;transform:scaleX(0.9634);transform-origin:50% 50%;">22,50</div>
<div class="t" style="left:515.29px;top:469px;width:400px;height:27px;line-height:27px;font-size:20.50px;text-align:center;color:#0e2752;transform:scaleX(0.9634);transform-origin:50% 50%;">10,70</div>
<div class="t" style="left:630.12px;top:469px;width:400px;height:27px;line-height:27px;font-size:20.50px;text-align:center;color:#0e2752;transform:scaleX(0.9634);transform-origin:50% 50%;">11,00</div>
<div class="t" style="left:744.94px;top:469px;width:400px;height:27px;line-height:27px;font-size:20.50px;text-align:center;color:#0e2752;transform:scaleX(0.9634);transform-origin:50% 50%;">35,35</div>
<div class="t" style="left:859.78px;top:469px;width:400px;height:27px;line-height:27px;font-size:20.50px;text-align:center;color:#0e2752;transform:scaleX(0.9634);transform-origin:50% 50%;">49,80</div>
<div class="t" style="left:974.61px;top:469px;width:400px;height:27px;line-height:27px;font-size:20.50px;text-align:center;color:#0e2752;transform:scaleX(0.9634);transform-origin:50% 50%;">35,40</div>
<div class="t" style="left:1089.43px;top:469px;width:400px;height:27px;line-height:27px;font-size:20.50px;text-align:center;color:#0e2752;transform:scaleX(0.9634);transform-origin:50% 50%;">63,85</div>
<div class="t" style="left:1203.46px;top:471px;width:400px;height:26px;line-height:26px;font-size:19.78px;text-align:center;color:#0b2463;-webkit-text-stroke:0.20px #0b2463;transform:scaleX(0.9893);transform-origin:50% 50%;">104,50</div>
<div class="t" style="left:1318.29px;top:471px;width:400px;height:26px;line-height:26px;font-size:19.78px;text-align:center;color:#0b2463;-webkit-text-stroke:0.20px #0b2463;transform:scaleX(0.9890);transform-origin:50% 50%;">66,20</div>
<div class="t" style="left:1433.12px;top:471px;width:400px;height:26px;line-height:26px;font-size:19.78px;text-align:center;color:#0b2463;-webkit-text-stroke:0.20px #0b2463;transform:scaleX(0.9890);transform-origin:50% 50%;">63,10</div>
<div class="t" style="left:-68.52px;top:496px;width:400px;height:26px;line-height:26px;font-size:20.00px;text-align:center;color:#001f5c;font-weight:bold;letter-spacing:-0.100px;">ene-25</div>
<div class="t" style="left:55.97px;top:495px;width:400px;height:27px;line-height:27px;font-size:20.50px;text-align:center;color:#0e2752;transform:scaleX(0.9634);transform-origin:50% 50%;">7,70</div>
<div class="t" style="left:170.80px;top:495px;width:400px;height:27px;line-height:27px;font-size:20.50px;text-align:center;color:#0e2752;transform:scaleX(0.9634);transform-origin:50% 50%;">11,10</div>
<div class="t" style="left:285.62px;top:495px;width:400px;height:27px;line-height:27px;font-size:20.50px;text-align:center;color:#0e2752;transform:scaleX(0.9634);transform-origin:50% 50%;">14,20</div>
<div class="t" style="left:400.45px;top:495px;width:400px;height:27px;line-height:27px;font-size:20.50px;text-align:center;color:#0e2752;transform:scaleX(0.9634);transform-origin:50% 50%;">22,50</div>
<div class="t" style="left:515.29px;top:495px;width:400px;height:27px;line-height:27px;font-size:20.50px;text-align:center;color:#0e2752;transform:scaleX(0.9634);transform-origin:50% 50%;">10,80</div>
<div class="t" style="left:630.12px;top:495px;width:400px;height:27px;line-height:27px;font-size:20.50px;text-align:center;color:#0e2752;transform:scaleX(0.9634);transform-origin:50% 50%;">11,00</div>
<div class="t" style="left:744.94px;top:495px;width:400px;height:27px;line-height:27px;font-size:20.50px;text-align:center;color:#0e2752;transform:scaleX(0.9634);transform-origin:50% 50%;">35,00</div>
<div class="t" style="left:859.78px;top:495px;width:400px;height:27px;line-height:27px;font-size:20.50px;text-align:center;color:#0e2752;transform:scaleX(0.9634);transform-origin:50% 50%;">48,60</div>
<div class="t" style="left:974.61px;top:495px;width:400px;height:27px;line-height:27px;font-size:20.50px;text-align:center;color:#0e2752;transform:scaleX(0.9634);transform-origin:50% 50%;">35,60</div>
<div class="t" style="left:1089.43px;top:495px;width:400px;height:27px;line-height:27px;font-size:20.50px;text-align:center;color:#0e2752;transform:scaleX(0.9634);transform-origin:50% 50%;">64,60</div>
<div class="t" style="left:1203.46px;top:497px;width:400px;height:26px;line-height:26px;font-size:19.78px;text-align:center;color:#0b2463;-webkit-text-stroke:0.20px #0b2463;transform:scaleX(0.9893);transform-origin:50% 50%;">105,00</div>
<div class="t" style="left:1318.29px;top:497px;width:400px;height:26px;line-height:26px;font-size:19.78px;text-align:center;color:#0b2463;-webkit-text-stroke:0.20px #0b2463;transform:scaleX(0.9890);transform-origin:50% 50%;">66,30</div>
<div class="t" style="left:1433.12px;top:497px;width:400px;height:26px;line-height:26px;font-size:19.78px;text-align:center;color:#0b2463;-webkit-text-stroke:0.20px #0b2463;transform:scaleX(0.9890);transform-origin:50% 50%;">63,20</div>
<div class="t" style="left:-68.52px;top:522px;width:400px;height:26px;line-height:26px;font-size:20.00px;text-align:center;color:#001f5c;font-weight:bold;letter-spacing:-0.100px;">feb-25</div>
<div class="t" style="left:55.97px;top:521px;width:400px;height:27px;line-height:27px;font-size:20.50px;text-align:center;color:#0e2752;transform:scaleX(0.9634);transform-origin:50% 50%;">7,80</div>
<div class="t" style="left:170.80px;top:521px;width:400px;height:27px;line-height:27px;font-size:20.50px;text-align:center;color:#0e2752;transform:scaleX(0.9634);transform-origin:50% 50%;">11,00</div>
<div class="t" style="left:285.62px;top:521px;width:400px;height:27px;line-height:27px;font-size:20.50px;text-align:center;color:#0e2752;transform:scaleX(0.9634);transform-origin:50% 50%;">14,40</div>
<div class="t" style="left:400.45px;top:521px;width:400px;height:27px;line-height:27px;font-size:20.50px;text-align:center;color:#0e2752;transform:scaleX(0.9634);transform-origin:50% 50%;">22,30</div>
<div class="t" style="left:515.29px;top:521px;width:400px;height:27px;line-height:27px;font-size:20.50px;text-align:center;color:#0e2752;transform:scaleX(0.9634);transform-origin:50% 50%;">10,80</div>
<div class="t" style="left:630.12px;top:521px;width:400px;height:27px;line-height:27px;font-size:20.50px;text-align:center;color:#0e2752;transform:scaleX(0.9634);transform-origin:50% 50%;">11,00</div>
<div class="t" style="left:744.94px;top:521px;width:400px;height:27px;line-height:27px;font-size:20.50px;text-align:center;color:#0e2752;transform:scaleX(0.9634);transform-origin:50% 50%;">34,80</div>
<div class="t" style="left:859.78px;top:521px;width:400px;height:27px;line-height:27px;font-size:20.50px;text-align:center;color:#0e2752;transform:scaleX(0.9634);transform-origin:50% 50%;">48,60</div>
<div class="t" style="left:974.61px;top:521px;width:400px;height:27px;line-height:27px;font-size:20.50px;text-align:center;color:#0e2752;transform:scaleX(0.9634);transform-origin:50% 50%;">35,00</div>
<div class="t" style="left:1089.43px;top:521px;width:400px;height:27px;line-height:27px;font-size:20.50px;text-align:center;color:#0e2752;transform:scaleX(0.9634);transform-origin:50% 50%;">65,00</div>
<div class="t" style="left:1203.46px;top:523px;width:400px;height:26px;line-height:26px;font-size:19.78px;text-align:center;color:#0b2463;-webkit-text-stroke:0.20px #0b2463;transform:scaleX(0.9893);transform-origin:50% 50%;">106,45</div>
<div class="t" style="left:1318.29px;top:523px;width:400px;height:26px;line-height:26px;font-size:19.78px;text-align:center;color:#0b2463;-webkit-text-stroke:0.20px #0b2463;transform:scaleX(0.9890);transform-origin:50% 50%;">66,30</div>
<div class="t" style="left:1433.12px;top:523px;width:400px;height:26px;line-height:26px;font-size:19.78px;text-align:center;color:#0b2463;-webkit-text-stroke:0.20px #0b2463;transform:scaleX(0.9890);transform-origin:50% 50%;">62,60</div>
<div class="t" style="left:-68.52px;top:548px;width:400px;height:26px;line-height:26px;font-size:20.00px;text-align:center;color:#001f5c;font-weight:bold;letter-spacing:-0.100px;">mar-25</div>
<div class="t" style="left:55.97px;top:547px;width:400px;height:27px;line-height:27px;font-size:20.50px;text-align:center;color:#0e2752;transform:scaleX(0.9634);transform-origin:50% 50%;">7,70</div>
<div class="t" style="left:170.80px;top:547px;width:400px;height:27px;line-height:27px;font-size:20.50px;text-align:center;color:#0e2752;transform:scaleX(0.9634);transform-origin:50% 50%;">11,00</div>
<div class="t" style="left:285.62px;top:547px;width:400px;height:27px;line-height:27px;font-size:20.50px;text-align:center;color:#0e2752;transform:scaleX(0.9634);transform-origin:50% 50%;">14,40</div>
<div class="t" style="left:400.45px;top:547px;width:400px;height:27px;line-height:27px;font-size:20.50px;text-align:center;color:#0e2752;transform:scaleX(0.9634);transform-origin:50% 50%;">22,40</div>
<div class="t" style="left:515.29px;top:547px;width:400px;height:27px;line-height:27px;font-size:20.50px;text-align:center;color:#0e2752;transform:scaleX(0.9634);transform-origin:50% 50%;">10,80</div>
<div class="t" style="left:630.12px;top:547px;width:400px;height:27px;line-height:27px;font-size:20.50px;text-align:center;color:#0e2752;transform:scaleX(0.9634);transform-origin:50% 50%;">11,00</div>
<div class="t" style="left:744.94px;top:547px;width:400px;height:27px;line-height:27px;font-size:20.50px;text-align:center;color:#0e2752;transform:scaleX(0.9634);transform-origin:50% 50%;">34,60</div>
<div class="t" style="left:859.78px;top:547px;width:400px;height:27px;line-height:27px;font-size:20.50px;text-align:center;color:#0e2752;transform:scaleX(0.9634);transform-origin:50% 50%;">48,60</div>
<div class="t" style="left:974.61px;top:547px;width:400px;height:27px;line-height:27px;font-size:20.50px;text-align:center;color:#0e2752;transform:scaleX(0.9634);transform-origin:50% 50%;">34,60</div>
<div class="t" style="left:1089.43px;top:547px;width:400px;height:27px;line-height:27px;font-size:20.50px;text-align:center;color:#0e2752;transform:scaleX(0.9634);transform-origin:50% 50%;">65,45</div>
<div class="t" style="left:1203.46px;top:549px;width:400px;height:26px;line-height:26px;font-size:19.78px;text-align:center;color:#0b2463;-webkit-text-stroke:0.20px #0b2463;transform:scaleX(0.9893);transform-origin:50% 50%;">107,60</div>
<div class="t" style="left:1318.29px;top:549px;width:400px;height:26px;line-height:26px;font-size:19.78px;text-align:center;color:#0b2463;-webkit-text-stroke:0.20px #0b2463;transform:scaleX(0.9890);transform-origin:50% 50%;">66,30</div>
<div class="t" style="left:1433.12px;top:549px;width:400px;height:26px;line-height:26px;font-size:19.78px;text-align:center;color:#0b2463;-webkit-text-stroke:0.20px #0b2463;transform:scaleX(0.9890);transform-origin:50% 50%;">62,10</div>
<div class="t" style="left:-68.52px;top:574px;width:400px;height:26px;line-height:26px;font-size:20.00px;text-align:center;color:#001f5c;font-weight:bold;letter-spacing:-0.100px;">abr-25</div>
<div class="t" style="left:55.97px;top:573px;width:400px;height:27px;line-height:27px;font-size:20.50px;text-align:center;color:#0e2752;transform:scaleX(0.9634);transform-origin:50% 50%;">7,70</div>
<div class="t" style="left:170.80px;top:573px;width:400px;height:27px;line-height:27px;font-size:20.50px;text-align:center;color:#0e2752;transform:scaleX(0.9634);transform-origin:50% 50%;">10,80</div>
<div class="t" style="left:285.62px;top:573px;width:400px;height:27px;line-height:27px;font-size:20.50px;text-align:center;color:#0e2752;transform:scaleX(0.9634);transform-origin:50% 50%;">14,30</div>
<div class="t" style="left:400.45px;top:573px;width:400px;height:27px;line-height:27px;font-size:20.50px;text-align:center;color:#0e2752;transform:scaleX(0.9634);transform-origin:50% 50%;">20,85</div>
<div class="t" style="left:515.29px;top:573px;width:400px;height:27px;line-height:27px;font-size:20.50px;text-align:center;color:#0e2752;transform:scaleX(0.9634);transform-origin:50% 50%;">10,80</div>
<div class="t" style="left:630.12px;top:573px;width:400px;height:27px;line-height:27px;font-size:20.50px;text-align:center;color:#0e2752;transform:scaleX(0.9634);transform-origin:50% 50%;">11,00</div>
<div class="t" style="left:744.94px;top:573px;width:400px;height:27px;line-height:27px;font-size:20.50px;text-align:center;color:#0e2752;transform:scaleX(0.9634);transform-origin:50% 50%;">34,40</div>
<div class="t" style="left:859.78px;top:573px;width:400px;height:27px;line-height:27px;font-size:20.50px;text-align:center;color:#0e2752;transform:scaleX(0.9634);transform-origin:50% 50%;">48,60</div>
<div class="t" style="left:974.61px;top:573px;width:400px;height:27px;line-height:27px;font-size:20.50px;text-align:center;color:#0e2752;transform:scaleX(0.9634);transform-origin:50% 50%;">34,20</div>
<div class="t" style="left:1089.43px;top:573px;width:400px;height:27px;line-height:27px;font-size:20.50px;text-align:center;color:#0e2752;transform:scaleX(0.9634);transform-origin:50% 50%;">64,60</div>
<div class="t" style="left:1203.46px;top:575px;width:400px;height:26px;line-height:26px;font-size:19.78px;text-align:center;color:#0b2463;-webkit-text-stroke:0.20px #0b2463;transform:scaleX(0.9893);transform-origin:50% 50%;">100,80</div>
<div class="t" style="left:1318.29px;top:575px;width:400px;height:26px;line-height:26px;font-size:19.78px;text-align:center;color:#0b2463;-webkit-text-stroke:0.20px #0b2463;transform:scaleX(0.9890);transform-origin:50% 50%;">65,20</div>
<div class="t" style="left:1433.12px;top:575px;width:400px;height:26px;line-height:26px;font-size:19.78px;text-align:center;color:#0b2463;-webkit-text-stroke:0.20px #0b2463;transform:scaleX(0.9890);transform-origin:50% 50%;">61,55</div>
</div>
</div></body></html>
